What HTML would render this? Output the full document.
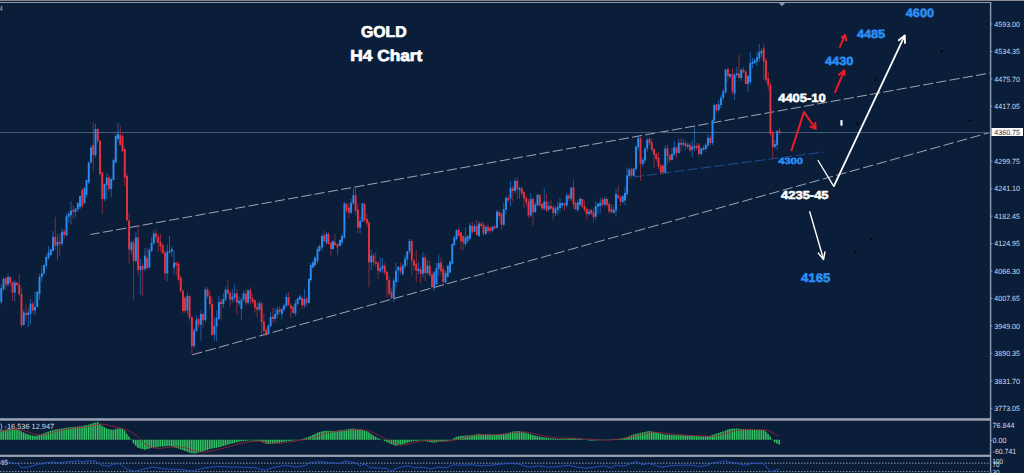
<!DOCTYPE html>
<html><head><meta charset="utf-8"><title>GOLD H4 Chart</title>
<style>
html,body{margin:0;padding:0;background:#0a1e3a;width:1024px;height:473px;overflow:hidden;font-family:"Liberation Sans",sans-serif;}
svg text{font-family:"Liberation Sans",sans-serif;text-rendering:geometricPrecision;}
</style></head><body>
<svg width="1024" height="473" viewBox="0 0 1024 473" style="position:absolute;left:0;top:0;display:block">
<rect x="0" y="0" width="1024" height="473" fill="#0a1e3a"/>
<rect x="0" y="0" width="1024" height="1" fill="#8a8a8a"/>
<rect x="0" y="1" width="1024" height="1" fill="#0b1a34"/>
<rect x="0" y="2" width="991.3" height="1" fill="#909ab2"/>
<rect x="989.9" y="2" width="1.4" height="471" fill="#909ab2"/>
<line x1="90.5" y1="234.5" x2="990" y2="73" stroke="#a6acb8" stroke-width="0.95" stroke-dasharray="10.15 3.29" stroke-dashoffset="0.8"/>
<line x1="191.5" y1="355" x2="990" y2="132.5" stroke="#a6acb8" stroke-width="0.95" stroke-dasharray="10.55 3.38" stroke-dashoffset="-0.6"/>
<line x1="633.5" y1="177" x2="824" y2="152" stroke="#1f68c4" stroke-width="0.65" stroke-dasharray="10.3 3.3" />
<rect x="0" y="132" width="990" height="1" fill="#485b78"/>
<g><line x1="1.25" y1="284.00" x2="1.25" y2="304.50" stroke="#2a8cf2" stroke-width="1" opacity="0.55"/><line x1="3.50" y1="277.50" x2="3.50" y2="291.00" stroke="#2a8cf2" stroke-width="1" opacity="0.55"/><line x1="5.75" y1="277.25" x2="5.75" y2="289.50" stroke="#e8323f" stroke-width="1" opacity="0.55"/><line x1="8.00" y1="274.00" x2="8.00" y2="286.50" stroke="#2a8cf2" stroke-width="1" opacity="0.55"/><line x1="10.25" y1="276.50" x2="10.25" y2="286.40" stroke="#e8323f" stroke-width="1" opacity="0.55"/><line x1="12.50" y1="281.50" x2="12.50" y2="301.00" stroke="#e8323f" stroke-width="1" opacity="0.55"/><line x1="14.75" y1="280.10" x2="14.75" y2="300.75" stroke="#2a8cf2" stroke-width="1" opacity="0.55"/><line x1="17.00" y1="282.10" x2="17.00" y2="286.50" stroke="#e8323f" stroke-width="1" opacity="0.55"/><line x1="19.25" y1="274.50" x2="19.25" y2="296.50" stroke="#e8323f" stroke-width="1" opacity="0.55"/><line x1="21.50" y1="288.00" x2="21.50" y2="327.50" stroke="#e8323f" stroke-width="1" opacity="0.55"/><line x1="23.75" y1="310.00" x2="23.75" y2="325.50" stroke="#2a8cf2" stroke-width="1" opacity="0.55"/><line x1="26.00" y1="304.40" x2="26.00" y2="321.00" stroke="#e8323f" stroke-width="1" opacity="0.55"/><line x1="28.25" y1="308.00" x2="28.25" y2="327.00" stroke="#2a8cf2" stroke-width="1" opacity="0.55"/><line x1="30.50" y1="299.00" x2="30.50" y2="324.40" stroke="#2a8cf2" stroke-width="1" opacity="0.55"/><line x1="32.75" y1="301.25" x2="32.75" y2="313.75" stroke="#e8323f" stroke-width="1" opacity="0.55"/><line x1="35.00" y1="291.40" x2="35.00" y2="315.60" stroke="#2a8cf2" stroke-width="1" opacity="0.55"/><line x1="37.25" y1="291.00" x2="37.25" y2="307.50" stroke="#2a8cf2" stroke-width="1" opacity="0.55"/><line x1="39.50" y1="274.00" x2="39.50" y2="300.00" stroke="#2a8cf2" stroke-width="1" opacity="0.55"/><line x1="41.75" y1="265.75" x2="41.75" y2="282.00" stroke="#2a8cf2" stroke-width="1" opacity="0.55"/><line x1="44.00" y1="264.50" x2="44.00" y2="275.25" stroke="#2a8cf2" stroke-width="1" opacity="0.55"/><line x1="46.25" y1="254.90" x2="46.25" y2="269.00" stroke="#2a8cf2" stroke-width="1" opacity="0.55"/><line x1="48.50" y1="246.00" x2="48.50" y2="260.00" stroke="#2a8cf2" stroke-width="1" opacity="0.55"/><line x1="50.75" y1="248.90" x2="50.75" y2="256.00" stroke="#2a8cf2" stroke-width="1" opacity="0.55"/><line x1="53.00" y1="231.00" x2="53.00" y2="251.50" stroke="#2a8cf2" stroke-width="1" opacity="0.55"/><line x1="55.25" y1="216.90" x2="55.25" y2="250.00" stroke="#e8323f" stroke-width="1" opacity="0.55"/><line x1="57.50" y1="233.75" x2="57.50" y2="259.40" stroke="#2a8cf2" stroke-width="1" opacity="0.55"/><line x1="59.75" y1="233.75" x2="59.75" y2="256.00" stroke="#e8323f" stroke-width="1" opacity="0.55"/><line x1="62.00" y1="228.75" x2="62.00" y2="246.25" stroke="#2a8cf2" stroke-width="1" opacity="0.55"/><line x1="64.25" y1="229.25" x2="64.25" y2="238.75" stroke="#e8323f" stroke-width="1" opacity="0.55"/><line x1="66.50" y1="213.75" x2="66.50" y2="236.10" stroke="#2a8cf2" stroke-width="1" opacity="0.55"/><line x1="68.75" y1="211.25" x2="68.75" y2="222.50" stroke="#2a8cf2" stroke-width="1" opacity="0.55"/><line x1="71.00" y1="201.00" x2="71.00" y2="224.40" stroke="#2a8cf2" stroke-width="1" opacity="0.55"/><line x1="73.25" y1="205.00" x2="73.25" y2="218.75" stroke="#e8323f" stroke-width="1" opacity="0.55"/><line x1="75.50" y1="208.25" x2="75.50" y2="217.50" stroke="#2a8cf2" stroke-width="1" opacity="0.55"/><line x1="77.75" y1="202.00" x2="77.75" y2="211.90" stroke="#2a8cf2" stroke-width="1" opacity="0.55"/><line x1="80.00" y1="195.50" x2="80.00" y2="209.50" stroke="#2a8cf2" stroke-width="1" opacity="0.55"/><line x1="82.25" y1="187.50" x2="82.25" y2="208.00" stroke="#e8323f" stroke-width="1" opacity="0.55"/><line x1="84.50" y1="187.50" x2="84.50" y2="204.00" stroke="#2a8cf2" stroke-width="1" opacity="0.55"/><line x1="86.50" y1="179.50" x2="86.50" y2="197.50" stroke="#2a8cf2" stroke-width="1" opacity="0.55"/><line x1="88.75" y1="161.50" x2="88.75" y2="184.00" stroke="#2a8cf2" stroke-width="1" opacity="0.55"/><line x1="91.00" y1="145.50" x2="91.00" y2="163.50" stroke="#2a8cf2" stroke-width="1" opacity="0.55"/><line x1="93.25" y1="122.50" x2="93.25" y2="171.00" stroke="#e8323f" stroke-width="1" opacity="0.55"/><line x1="95.50" y1="124.00" x2="95.50" y2="157.50" stroke="#2a8cf2" stroke-width="1" opacity="0.55"/><line x1="97.75" y1="128.50" x2="97.75" y2="143.50" stroke="#e8323f" stroke-width="1" opacity="0.55"/><line x1="100.00" y1="139.50" x2="100.00" y2="176.50" stroke="#e8323f" stroke-width="1" opacity="0.55"/><line x1="102.25" y1="171.50" x2="102.25" y2="214.00" stroke="#e8323f" stroke-width="1" opacity="0.55"/><line x1="104.50" y1="183.50" x2="104.50" y2="201.00" stroke="#2a8cf2" stroke-width="1" opacity="0.55"/><line x1="106.75" y1="172.50" x2="106.75" y2="199.00" stroke="#2a8cf2" stroke-width="1" opacity="0.55"/><line x1="109.00" y1="175.00" x2="109.00" y2="191.50" stroke="#e8323f" stroke-width="1" opacity="0.55"/><line x1="111.25" y1="178.00" x2="111.25" y2="197.50" stroke="#2a8cf2" stroke-width="1" opacity="0.55"/><line x1="113.50" y1="158.50" x2="113.50" y2="180.50" stroke="#2a8cf2" stroke-width="1" opacity="0.55"/><line x1="115.75" y1="133.50" x2="115.75" y2="163.00" stroke="#2a8cf2" stroke-width="1" opacity="0.55"/><line x1="118.00" y1="122.50" x2="118.00" y2="141.50" stroke="#2a8cf2" stroke-width="1" opacity="0.55"/><line x1="120.25" y1="125.00" x2="120.25" y2="145.50" stroke="#e8323f" stroke-width="1" opacity="0.55"/><line x1="122.50" y1="133.50" x2="122.50" y2="152.00" stroke="#e8323f" stroke-width="1" opacity="0.55"/><line x1="124.75" y1="147.00" x2="124.75" y2="186.00" stroke="#e8323f" stroke-width="1" opacity="0.55"/><line x1="127.00" y1="173.50" x2="127.00" y2="222.00" stroke="#e8323f" stroke-width="1" opacity="0.55"/><line x1="129.10" y1="213.00" x2="129.10" y2="264.00" stroke="#e8323f" stroke-width="1" opacity="0.55"/><line x1="131.40" y1="241.00" x2="131.40" y2="254.00" stroke="#2a8cf2" stroke-width="1" opacity="0.55"/><line x1="133.60" y1="239.40" x2="133.60" y2="300.00" stroke="#e8323f" stroke-width="1" opacity="0.55"/><line x1="135.90" y1="232.50" x2="135.90" y2="262.60" stroke="#2a8cf2" stroke-width="1" opacity="0.55"/><line x1="138.10" y1="226.25" x2="138.10" y2="275.00" stroke="#e8323f" stroke-width="1" opacity="0.55"/><line x1="140.40" y1="259.00" x2="140.40" y2="295.00" stroke="#2a8cf2" stroke-width="1" opacity="0.55"/><line x1="142.60" y1="263.50" x2="142.60" y2="296.00" stroke="#e8323f" stroke-width="1" opacity="0.55"/><line x1="144.90" y1="248.00" x2="144.90" y2="271.00" stroke="#2a8cf2" stroke-width="1" opacity="0.55"/><line x1="147.10" y1="247.50" x2="147.10" y2="269.50" stroke="#e8323f" stroke-width="1" opacity="0.55"/><line x1="149.40" y1="248.50" x2="149.40" y2="268.50" stroke="#2a8cf2" stroke-width="1" opacity="0.55"/><line x1="151.60" y1="236.90" x2="151.60" y2="252.00" stroke="#2a8cf2" stroke-width="1" opacity="0.55"/><line x1="153.75" y1="231.00" x2="153.75" y2="244.40" stroke="#2a8cf2" stroke-width="1" opacity="0.55"/><line x1="156.00" y1="229.00" x2="156.00" y2="243.40" stroke="#e8323f" stroke-width="1" opacity="0.55"/><line x1="158.25" y1="234.00" x2="158.25" y2="251.50" stroke="#e8323f" stroke-width="1" opacity="0.55"/><line x1="160.50" y1="234.00" x2="160.50" y2="252.00" stroke="#e8323f" stroke-width="1" opacity="0.55"/><line x1="162.75" y1="243.40" x2="162.75" y2="253.90" stroke="#e8323f" stroke-width="1" opacity="0.55"/><line x1="165.00" y1="250.25" x2="165.00" y2="279.60" stroke="#e8323f" stroke-width="1" opacity="0.55"/><line x1="167.25" y1="244.00" x2="167.25" y2="280.90" stroke="#2a8cf2" stroke-width="1" opacity="0.55"/><line x1="169.50" y1="235.90" x2="169.50" y2="254.00" stroke="#2a8cf2" stroke-width="1" opacity="0.55"/><line x1="171.75" y1="246.50" x2="171.75" y2="256.50" stroke="#2a8cf2" stroke-width="1" opacity="0.55"/><line x1="174.00" y1="250.25" x2="174.00" y2="274.60" stroke="#2a8cf2" stroke-width="1" opacity="0.55"/><line x1="176.25" y1="261.50" x2="176.25" y2="275.25" stroke="#e8323f" stroke-width="1" opacity="0.55"/><line x1="178.50" y1="261.50" x2="178.50" y2="281.10" stroke="#e8323f" stroke-width="1" opacity="0.55"/><line x1="180.75" y1="275.25" x2="180.75" y2="293.00" stroke="#e8323f" stroke-width="1" opacity="0.55"/><line x1="183.00" y1="289.50" x2="183.00" y2="313.00" stroke="#e8323f" stroke-width="1" opacity="0.55"/><line x1="185.00" y1="296.25" x2="185.00" y2="313.40" stroke="#e8323f" stroke-width="1" opacity="0.55"/><line x1="187.40" y1="292.00" x2="187.40" y2="314.60" stroke="#2a8cf2" stroke-width="1" opacity="0.55"/><line x1="189.60" y1="295.40" x2="189.60" y2="321.00" stroke="#e8323f" stroke-width="1" opacity="0.55"/><line x1="191.90" y1="316.50" x2="191.90" y2="354.00" stroke="#e8323f" stroke-width="1" opacity="0.55"/><line x1="194.10" y1="327.75" x2="194.10" y2="348.00" stroke="#2a8cf2" stroke-width="1" opacity="0.55"/><line x1="196.40" y1="315.25" x2="196.40" y2="331.90" stroke="#2a8cf2" stroke-width="1" opacity="0.55"/><line x1="198.60" y1="317.50" x2="198.60" y2="327.75" stroke="#e8323f" stroke-width="1" opacity="0.55"/><line x1="200.90" y1="310.25" x2="200.90" y2="340.90" stroke="#2a8cf2" stroke-width="1" opacity="0.55"/><line x1="203.10" y1="313.00" x2="203.10" y2="327.75" stroke="#e8323f" stroke-width="1" opacity="0.55"/><line x1="205.40" y1="287.00" x2="205.40" y2="322.25" stroke="#2a8cf2" stroke-width="1" opacity="0.55"/><line x1="207.60" y1="287.50" x2="207.60" y2="298.50" stroke="#e8323f" stroke-width="1" opacity="0.55"/><line x1="209.90" y1="290.90" x2="209.90" y2="308.40" stroke="#e8323f" stroke-width="1" opacity="0.55"/><line x1="212.10" y1="297.75" x2="212.10" y2="335.75" stroke="#e8323f" stroke-width="1" opacity="0.55"/><line x1="214.40" y1="317.00" x2="214.40" y2="340.90" stroke="#2a8cf2" stroke-width="1" opacity="0.55"/><line x1="216.60" y1="310.25" x2="216.60" y2="341.50" stroke="#2a8cf2" stroke-width="1" opacity="0.55"/><line x1="218.90" y1="295.90" x2="218.90" y2="319.50" stroke="#2a8cf2" stroke-width="1" opacity="0.55"/><line x1="221.10" y1="299.00" x2="221.10" y2="320.25" stroke="#e8323f" stroke-width="1" opacity="0.55"/><line x1="223.40" y1="293.40" x2="223.40" y2="307.75" stroke="#2a8cf2" stroke-width="1" opacity="0.55"/><line x1="225.60" y1="287.10" x2="225.60" y2="301.10" stroke="#2a8cf2" stroke-width="1" opacity="0.55"/><line x1="227.90" y1="280.00" x2="227.90" y2="294.90" stroke="#e8323f" stroke-width="1" opacity="0.55"/><line x1="230.10" y1="291.25" x2="230.10" y2="307.00" stroke="#e8323f" stroke-width="1" opacity="0.55"/><line x1="232.40" y1="289.00" x2="232.40" y2="302.75" stroke="#2a8cf2" stroke-width="1" opacity="0.55"/><line x1="234.60" y1="284.60" x2="234.60" y2="301.50" stroke="#2a8cf2" stroke-width="1" opacity="0.55"/><line x1="236.90" y1="289.00" x2="236.90" y2="314.60" stroke="#e8323f" stroke-width="1" opacity="0.55"/><line x1="239.10" y1="296.50" x2="239.10" y2="305.90" stroke="#2a8cf2" stroke-width="1" opacity="0.55"/><line x1="241.40" y1="297.60" x2="241.40" y2="319.60" stroke="#2a8cf2" stroke-width="1" opacity="0.55"/><line x1="243.60" y1="290.90" x2="243.60" y2="301.60" stroke="#2a8cf2" stroke-width="1" opacity="0.55"/><line x1="245.90" y1="289.00" x2="245.90" y2="305.25" stroke="#e8323f" stroke-width="1" opacity="0.55"/><line x1="248.10" y1="289.75" x2="248.10" y2="304.60" stroke="#2a8cf2" stroke-width="1" opacity="0.55"/><line x1="250.40" y1="287.00" x2="250.40" y2="304.00" stroke="#e8323f" stroke-width="1" opacity="0.55"/><line x1="252.60" y1="294.60" x2="252.60" y2="304.00" stroke="#e8323f" stroke-width="1" opacity="0.55"/><line x1="254.90" y1="299.75" x2="254.90" y2="312.75" stroke="#e8323f" stroke-width="1" opacity="0.55"/><line x1="257.10" y1="302.75" x2="257.10" y2="317.75" stroke="#e8323f" stroke-width="1" opacity="0.55"/><line x1="259.40" y1="301.50" x2="259.40" y2="311.10" stroke="#2a8cf2" stroke-width="1" opacity="0.55"/><line x1="261.60" y1="301.50" x2="261.60" y2="334.60" stroke="#e8323f" stroke-width="1" opacity="0.55"/><line x1="263.90" y1="313.40" x2="263.90" y2="334.00" stroke="#e8323f" stroke-width="1" opacity="0.55"/><line x1="266.10" y1="327.75" x2="266.10" y2="336.00" stroke="#e8323f" stroke-width="1" opacity="0.55"/><line x1="268.40" y1="324.75" x2="268.40" y2="334.50" stroke="#2a8cf2" stroke-width="1" opacity="0.55"/><line x1="270.60" y1="311.50" x2="270.60" y2="327.40" stroke="#2a8cf2" stroke-width="1" opacity="0.55"/><line x1="272.90" y1="307.75" x2="272.90" y2="322.75" stroke="#e8323f" stroke-width="1" opacity="0.55"/><line x1="275.10" y1="308.40" x2="275.10" y2="322.00" stroke="#2a8cf2" stroke-width="1" opacity="0.55"/><line x1="277.40" y1="306.50" x2="277.40" y2="318.40" stroke="#2a8cf2" stroke-width="1" opacity="0.55"/><line x1="279.60" y1="306.00" x2="279.60" y2="314.50" stroke="#e8323f" stroke-width="1" opacity="0.55"/><line x1="281.90" y1="307.00" x2="281.90" y2="319.00" stroke="#2a8cf2" stroke-width="1" opacity="0.55"/><line x1="284.10" y1="303.75" x2="284.10" y2="311.60" stroke="#2a8cf2" stroke-width="1" opacity="0.55"/><line x1="286.40" y1="293.40" x2="286.40" y2="307.40" stroke="#2a8cf2" stroke-width="1" opacity="0.55"/><line x1="288.60" y1="292.00" x2="288.60" y2="305.75" stroke="#e8323f" stroke-width="1" opacity="0.55"/><line x1="290.90" y1="303.25" x2="290.90" y2="317.75" stroke="#e8323f" stroke-width="1" opacity="0.55"/><line x1="293.10" y1="305.50" x2="293.10" y2="313.75" stroke="#e8323f" stroke-width="1" opacity="0.55"/><line x1="295.40" y1="299.60" x2="295.40" y2="315.90" stroke="#2a8cf2" stroke-width="1" opacity="0.55"/><line x1="297.60" y1="297.90" x2="297.60" y2="306.00" stroke="#2a8cf2" stroke-width="1" opacity="0.55"/><line x1="299.90" y1="294.60" x2="299.90" y2="300.10" stroke="#2a8cf2" stroke-width="1" opacity="0.55"/><line x1="302.10" y1="296.75" x2="302.10" y2="309.00" stroke="#e8323f" stroke-width="1" opacity="0.55"/><line x1="304.40" y1="289.00" x2="304.40" y2="308.40" stroke="#2a8cf2" stroke-width="1" opacity="0.55"/><line x1="306.60" y1="296.90" x2="306.60" y2="306.50" stroke="#e8323f" stroke-width="1" opacity="0.55"/><line x1="308.90" y1="278.00" x2="308.90" y2="303.75" stroke="#2a8cf2" stroke-width="1" opacity="0.55"/><line x1="310.75" y1="263.00" x2="310.75" y2="282.00" stroke="#2a8cf2" stroke-width="1" opacity="0.55"/><line x1="313.00" y1="260.50" x2="313.00" y2="268.00" stroke="#2a8cf2" stroke-width="1" opacity="0.55"/><line x1="315.00" y1="256.50" x2="315.00" y2="267.00" stroke="#2a8cf2" stroke-width="1" opacity="0.55"/><line x1="317.50" y1="247.00" x2="317.50" y2="263.50" stroke="#2a8cf2" stroke-width="1" opacity="0.55"/><line x1="319.50" y1="244.50" x2="319.50" y2="252.00" stroke="#2a8cf2" stroke-width="1" opacity="0.55"/><line x1="322.00" y1="234.00" x2="322.00" y2="250.00" stroke="#2a8cf2" stroke-width="1" opacity="0.55"/><line x1="324.00" y1="231.00" x2="324.00" y2="242.50" stroke="#e8323f" stroke-width="1" opacity="0.55"/><line x1="326.50" y1="232.00" x2="326.50" y2="244.00" stroke="#2a8cf2" stroke-width="1" opacity="0.55"/><line x1="328.50" y1="232.00" x2="328.50" y2="245.00" stroke="#e8323f" stroke-width="1" opacity="0.55"/><line x1="331.00" y1="241.50" x2="331.00" y2="256.00" stroke="#e8323f" stroke-width="1" opacity="0.55"/><line x1="333.00" y1="240.50" x2="333.00" y2="250.00" stroke="#2a8cf2" stroke-width="1" opacity="0.55"/><line x1="335.00" y1="234.00" x2="335.00" y2="246.00" stroke="#e8323f" stroke-width="1" opacity="0.55"/><line x1="337.50" y1="243.00" x2="337.50" y2="255.00" stroke="#e8323f" stroke-width="1" opacity="0.55"/><line x1="340.00" y1="239.00" x2="340.00" y2="246.50" stroke="#2a8cf2" stroke-width="1" opacity="0.55"/><line x1="342.00" y1="234.00" x2="342.00" y2="245.00" stroke="#2a8cf2" stroke-width="1" opacity="0.55"/><line x1="344.40" y1="202.00" x2="344.40" y2="238.50" stroke="#2a8cf2" stroke-width="1" opacity="0.55"/><line x1="346.60" y1="202.75" x2="346.60" y2="212.75" stroke="#e8323f" stroke-width="1" opacity="0.55"/><line x1="348.90" y1="203.40" x2="348.90" y2="217.75" stroke="#e8323f" stroke-width="1" opacity="0.55"/><line x1="351.10" y1="199.00" x2="351.10" y2="214.25" stroke="#2a8cf2" stroke-width="1" opacity="0.55"/><line x1="353.40" y1="188.40" x2="353.40" y2="204.90" stroke="#2a8cf2" stroke-width="1" opacity="0.55"/><line x1="355.60" y1="186.50" x2="355.60" y2="215.25" stroke="#e8323f" stroke-width="1" opacity="0.55"/><line x1="357.90" y1="202.75" x2="357.90" y2="233.40" stroke="#e8323f" stroke-width="1" opacity="0.55"/><line x1="360.10" y1="216.50" x2="360.10" y2="233.40" stroke="#2a8cf2" stroke-width="1" opacity="0.55"/><line x1="362.40" y1="202.90" x2="362.40" y2="222.50" stroke="#2a8cf2" stroke-width="1" opacity="0.55"/><line x1="364.60" y1="202.00" x2="364.60" y2="222.00" stroke="#e8323f" stroke-width="1" opacity="0.55"/><line x1="366.90" y1="214.00" x2="366.90" y2="227.00" stroke="#e8323f" stroke-width="1" opacity="0.55"/><line x1="369.00" y1="220.50" x2="369.00" y2="287.00" stroke="#e8323f" stroke-width="1" opacity="0.55"/><line x1="371.25" y1="250.00" x2="371.25" y2="270.00" stroke="#2a8cf2" stroke-width="1" opacity="0.55"/><line x1="373.50" y1="253.10" x2="373.50" y2="266.00" stroke="#e8323f" stroke-width="1" opacity="0.55"/><line x1="375.75" y1="252.00" x2="375.75" y2="267.00" stroke="#e8323f" stroke-width="1" opacity="0.55"/><line x1="378.00" y1="260.60" x2="378.00" y2="278.75" stroke="#e8323f" stroke-width="1" opacity="0.55"/><line x1="380.25" y1="257.00" x2="380.25" y2="272.75" stroke="#2a8cf2" stroke-width="1" opacity="0.55"/><line x1="382.50" y1="258.00" x2="382.50" y2="273.00" stroke="#2a8cf2" stroke-width="1" opacity="0.55"/><line x1="384.75" y1="263.00" x2="384.75" y2="275.00" stroke="#e8323f" stroke-width="1" opacity="0.55"/><line x1="387.00" y1="269.50" x2="387.00" y2="298.00" stroke="#e8323f" stroke-width="1" opacity="0.55"/><line x1="389.25" y1="275.60" x2="389.25" y2="295.25" stroke="#e8323f" stroke-width="1" opacity="0.55"/><line x1="391.50" y1="288.75" x2="391.50" y2="299.40" stroke="#e8323f" stroke-width="1" opacity="0.55"/><line x1="393.75" y1="278.00" x2="393.75" y2="302.50" stroke="#2a8cf2" stroke-width="1" opacity="0.55"/><line x1="396.00" y1="263.00" x2="396.00" y2="287.50" stroke="#2a8cf2" stroke-width="1" opacity="0.55"/><line x1="398.25" y1="266.00" x2="398.25" y2="282.50" stroke="#2a8cf2" stroke-width="1" opacity="0.55"/><line x1="400.50" y1="262.50" x2="400.50" y2="273.75" stroke="#e8323f" stroke-width="1" opacity="0.55"/><line x1="402.75" y1="263.75" x2="402.75" y2="275.60" stroke="#2a8cf2" stroke-width="1" opacity="0.55"/><line x1="405.00" y1="255.60" x2="405.00" y2="268.75" stroke="#2a8cf2" stroke-width="1" opacity="0.55"/><line x1="407.25" y1="250.75" x2="407.25" y2="265.60" stroke="#2a8cf2" stroke-width="1" opacity="0.55"/><line x1="409.50" y1="239.00" x2="409.50" y2="253.75" stroke="#2a8cf2" stroke-width="1" opacity="0.55"/><line x1="411.75" y1="239.00" x2="411.75" y2="276.25" stroke="#e8323f" stroke-width="1" opacity="0.55"/><line x1="414.00" y1="258.60" x2="414.00" y2="270.60" stroke="#e8323f" stroke-width="1" opacity="0.55"/><line x1="416.25" y1="250.00" x2="416.25" y2="282.00" stroke="#e8323f" stroke-width="1" opacity="0.55"/><line x1="418.50" y1="262.00" x2="418.50" y2="274.40" stroke="#2a8cf2" stroke-width="1" opacity="0.55"/><line x1="420.75" y1="265.60" x2="420.75" y2="283.75" stroke="#e8323f" stroke-width="1" opacity="0.55"/><line x1="423.00" y1="252.00" x2="423.00" y2="277.50" stroke="#2a8cf2" stroke-width="1" opacity="0.55"/><line x1="425.25" y1="255.00" x2="425.25" y2="281.25" stroke="#e8323f" stroke-width="1" opacity="0.55"/><line x1="427.50" y1="260.60" x2="427.50" y2="274.40" stroke="#2a8cf2" stroke-width="1" opacity="0.55"/><line x1="429.75" y1="260.00" x2="429.75" y2="277.00" stroke="#e8323f" stroke-width="1" opacity="0.55"/><line x1="432.00" y1="271.00" x2="432.00" y2="288.90" stroke="#e8323f" stroke-width="1" opacity="0.55"/><line x1="434.25" y1="270.50" x2="434.25" y2="291.25" stroke="#2a8cf2" stroke-width="1" opacity="0.55"/><line x1="436.50" y1="262.50" x2="436.50" y2="284.90" stroke="#2a8cf2" stroke-width="1" opacity="0.55"/><line x1="438.75" y1="254.40" x2="438.75" y2="275.60" stroke="#2a8cf2" stroke-width="1" opacity="0.55"/><line x1="441.00" y1="258.00" x2="441.00" y2="275.60" stroke="#e8323f" stroke-width="1" opacity="0.55"/><line x1="443.25" y1="265.00" x2="443.25" y2="283.90" stroke="#e8323f" stroke-width="1" opacity="0.55"/><line x1="445.50" y1="271.00" x2="445.50" y2="283.75" stroke="#2a8cf2" stroke-width="1" opacity="0.55"/><line x1="447.75" y1="265.00" x2="447.75" y2="277.40" stroke="#2a8cf2" stroke-width="1" opacity="0.55"/><line x1="450.00" y1="260.60" x2="450.00" y2="273.50" stroke="#2a8cf2" stroke-width="1" opacity="0.55"/><line x1="452.25" y1="243.50" x2="452.25" y2="264.75" stroke="#2a8cf2" stroke-width="1" opacity="0.55"/><line x1="454.30" y1="235.50" x2="454.30" y2="246.00" stroke="#2a8cf2" stroke-width="1" opacity="0.55"/><line x1="456.50" y1="229.50" x2="456.50" y2="240.50" stroke="#2a8cf2" stroke-width="1" opacity="0.55"/><line x1="458.75" y1="227.50" x2="458.75" y2="236.50" stroke="#e8323f" stroke-width="1" opacity="0.55"/><line x1="461.00" y1="232.00" x2="461.00" y2="250.00" stroke="#e8323f" stroke-width="1" opacity="0.55"/><line x1="463.20" y1="235.50" x2="463.20" y2="250.00" stroke="#e8323f" stroke-width="1" opacity="0.55"/><line x1="465.40" y1="227.50" x2="465.40" y2="246.50" stroke="#2a8cf2" stroke-width="1" opacity="0.55"/><line x1="467.60" y1="235.00" x2="467.60" y2="243.50" stroke="#2a8cf2" stroke-width="1" opacity="0.55"/><line x1="470.00" y1="223.00" x2="470.00" y2="239.50" stroke="#2a8cf2" stroke-width="1" opacity="0.55"/><line x1="472.25" y1="221.60" x2="472.25" y2="233.75" stroke="#e8323f" stroke-width="1" opacity="0.55"/><line x1="474.50" y1="223.50" x2="474.50" y2="232.10" stroke="#2a8cf2" stroke-width="1" opacity="0.55"/><line x1="476.75" y1="219.75" x2="476.75" y2="235.50" stroke="#e8323f" stroke-width="1" opacity="0.55"/><line x1="479.00" y1="221.00" x2="479.00" y2="237.00" stroke="#2a8cf2" stroke-width="1" opacity="0.55"/><line x1="481.25" y1="221.60" x2="481.25" y2="228.50" stroke="#e8323f" stroke-width="1" opacity="0.55"/><line x1="483.50" y1="222.25" x2="483.50" y2="236.00" stroke="#e8323f" stroke-width="1" opacity="0.55"/><line x1="485.75" y1="225.25" x2="485.75" y2="235.00" stroke="#2a8cf2" stroke-width="1" opacity="0.55"/><line x1="488.00" y1="222.90" x2="488.00" y2="232.50" stroke="#e8323f" stroke-width="1" opacity="0.55"/><line x1="490.25" y1="226.40" x2="490.25" y2="233.50" stroke="#e8323f" stroke-width="1" opacity="0.55"/><line x1="492.50" y1="225.40" x2="492.50" y2="231.90" stroke="#2a8cf2" stroke-width="1" opacity="0.55"/><line x1="494.75" y1="224.60" x2="494.75" y2="229.00" stroke="#e8323f" stroke-width="1" opacity="0.55"/><line x1="497.00" y1="210.40" x2="497.00" y2="228.40" stroke="#2a8cf2" stroke-width="1" opacity="0.55"/><line x1="499.25" y1="210.25" x2="499.25" y2="220.40" stroke="#e8323f" stroke-width="1" opacity="0.55"/><line x1="501.50" y1="212.25" x2="501.50" y2="229.75" stroke="#e8323f" stroke-width="1" opacity="0.55"/><line x1="503.75" y1="202.90" x2="503.75" y2="226.00" stroke="#2a8cf2" stroke-width="1" opacity="0.55"/><line x1="506.00" y1="195.40" x2="506.00" y2="214.75" stroke="#2a8cf2" stroke-width="1" opacity="0.55"/><line x1="508.25" y1="195.90" x2="508.25" y2="202.40" stroke="#e8323f" stroke-width="1" opacity="0.55"/><line x1="510.50" y1="181.00" x2="510.50" y2="206.00" stroke="#2a8cf2" stroke-width="1" opacity="0.55"/><line x1="512.75" y1="185.40" x2="512.75" y2="201.00" stroke="#e8323f" stroke-width="1" opacity="0.55"/><line x1="515.00" y1="178.50" x2="515.00" y2="193.50" stroke="#2a8cf2" stroke-width="1" opacity="0.55"/><line x1="517.25" y1="177.25" x2="517.25" y2="199.00" stroke="#e8323f" stroke-width="1" opacity="0.55"/><line x1="519.50" y1="186.60" x2="519.50" y2="199.00" stroke="#2a8cf2" stroke-width="1" opacity="0.55"/><line x1="521.75" y1="186.60" x2="521.75" y2="195.50" stroke="#e8323f" stroke-width="1" opacity="0.55"/><line x1="524.00" y1="191.00" x2="524.00" y2="207.90" stroke="#e8323f" stroke-width="1" opacity="0.55"/><line x1="526.25" y1="195.40" x2="526.25" y2="206.60" stroke="#e8323f" stroke-width="1" opacity="0.55"/><line x1="528.50" y1="198.50" x2="528.50" y2="217.90" stroke="#e8323f" stroke-width="1" opacity="0.55"/><line x1="530.75" y1="192.90" x2="530.75" y2="216.90" stroke="#2a8cf2" stroke-width="1" opacity="0.55"/><line x1="533.00" y1="197.90" x2="533.00" y2="225.40" stroke="#e8323f" stroke-width="1" opacity="0.55"/><line x1="535.25" y1="202.25" x2="535.25" y2="212.75" stroke="#2a8cf2" stroke-width="1" opacity="0.55"/><line x1="537.50" y1="194.00" x2="537.50" y2="206.40" stroke="#2a8cf2" stroke-width="1" opacity="0.55"/><line x1="539.75" y1="194.25" x2="539.75" y2="206.60" stroke="#e8323f" stroke-width="1" opacity="0.55"/><line x1="542.00" y1="202.90" x2="542.00" y2="211.00" stroke="#e8323f" stroke-width="1" opacity="0.55"/><line x1="544.25" y1="187.90" x2="544.25" y2="210.00" stroke="#2a8cf2" stroke-width="1" opacity="0.55"/><line x1="546.50" y1="194.00" x2="546.50" y2="211.90" stroke="#e8323f" stroke-width="1" opacity="0.55"/><line x1="548.75" y1="201.60" x2="548.75" y2="211.75" stroke="#2a8cf2" stroke-width="1" opacity="0.55"/><line x1="551.00" y1="199.75" x2="551.00" y2="209.50" stroke="#e8323f" stroke-width="1" opacity="0.55"/><line x1="553.25" y1="204.75" x2="553.25" y2="220.40" stroke="#e8323f" stroke-width="1" opacity="0.55"/><line x1="555.50" y1="205.40" x2="555.50" y2="216.00" stroke="#2a8cf2" stroke-width="1" opacity="0.55"/><line x1="557.75" y1="201.60" x2="557.75" y2="215.40" stroke="#2a8cf2" stroke-width="1" opacity="0.55"/><line x1="560.00" y1="197.90" x2="560.00" y2="212.25" stroke="#2a8cf2" stroke-width="1" opacity="0.55"/><line x1="562.25" y1="202.40" x2="562.25" y2="208.50" stroke="#2a8cf2" stroke-width="1" opacity="0.55"/><line x1="564.50" y1="202.50" x2="564.50" y2="211.00" stroke="#e8323f" stroke-width="1" opacity="0.55"/><line x1="566.75" y1="193.50" x2="566.75" y2="207.25" stroke="#2a8cf2" stroke-width="1" opacity="0.55"/><line x1="569.00" y1="192.90" x2="569.00" y2="201.00" stroke="#e8323f" stroke-width="1" opacity="0.55"/><line x1="571.25" y1="186.60" x2="571.25" y2="201.00" stroke="#2a8cf2" stroke-width="1" opacity="0.55"/><line x1="573.50" y1="179.75" x2="573.50" y2="209.00" stroke="#e8323f" stroke-width="1" opacity="0.55"/><line x1="575.50" y1="201.40" x2="575.50" y2="210.00" stroke="#e8323f" stroke-width="1" opacity="0.55"/><line x1="577.75" y1="199.75" x2="577.75" y2="210.90" stroke="#2a8cf2" stroke-width="1" opacity="0.55"/><line x1="580.00" y1="196.50" x2="580.00" y2="206.25" stroke="#2a8cf2" stroke-width="1" opacity="0.55"/><line x1="582.25" y1="198.50" x2="582.25" y2="208.10" stroke="#e8323f" stroke-width="1" opacity="0.55"/><line x1="584.50" y1="200.40" x2="584.50" y2="212.25" stroke="#e8323f" stroke-width="1" opacity="0.55"/><line x1="586.75" y1="207.50" x2="586.75" y2="219.75" stroke="#e8323f" stroke-width="1" opacity="0.55"/><line x1="589.00" y1="209.00" x2="589.00" y2="215.40" stroke="#2a8cf2" stroke-width="1" opacity="0.55"/><line x1="591.25" y1="208.75" x2="591.25" y2="215.00" stroke="#e8323f" stroke-width="1" opacity="0.55"/><line x1="593.50" y1="208.50" x2="593.50" y2="222.25" stroke="#e8323f" stroke-width="1" opacity="0.55"/><line x1="595.75" y1="201.60" x2="595.75" y2="219.75" stroke="#2a8cf2" stroke-width="1" opacity="0.55"/><line x1="598.00" y1="202.50" x2="598.00" y2="214.00" stroke="#2a8cf2" stroke-width="1" opacity="0.55"/><line x1="600.25" y1="197.90" x2="600.25" y2="212.90" stroke="#2a8cf2" stroke-width="1" opacity="0.55"/><line x1="602.50" y1="197.25" x2="602.50" y2="207.25" stroke="#e8323f" stroke-width="1" opacity="0.55"/><line x1="604.75" y1="196.50" x2="604.75" y2="206.25" stroke="#2a8cf2" stroke-width="1" opacity="0.55"/><line x1="607.00" y1="198.00" x2="607.00" y2="207.25" stroke="#e8323f" stroke-width="1" opacity="0.55"/><line x1="609.25" y1="201.50" x2="609.25" y2="214.00" stroke="#e8323f" stroke-width="1" opacity="0.55"/><line x1="611.50" y1="204.00" x2="611.50" y2="213.25" stroke="#e8323f" stroke-width="1" opacity="0.55"/><line x1="613.75" y1="205.40" x2="613.75" y2="214.00" stroke="#2a8cf2" stroke-width="1" opacity="0.55"/><line x1="616.00" y1="189.00" x2="616.00" y2="216.60" stroke="#2a8cf2" stroke-width="1" opacity="0.55"/><line x1="618.25" y1="185.40" x2="618.25" y2="198.90" stroke="#e8323f" stroke-width="1" opacity="0.55"/><line x1="620.50" y1="195.25" x2="620.50" y2="206.00" stroke="#e8323f" stroke-width="1" opacity="0.55"/><line x1="622.75" y1="195.00" x2="622.75" y2="203.25" stroke="#2a8cf2" stroke-width="1" opacity="0.55"/><line x1="625.00" y1="187.25" x2="625.00" y2="205.40" stroke="#2a8cf2" stroke-width="1" opacity="0.55"/><line x1="627.10" y1="167.90" x2="627.10" y2="196.50" stroke="#2a8cf2" stroke-width="1" opacity="0.55"/><line x1="629.25" y1="167.75" x2="629.25" y2="178.50" stroke="#2a8cf2" stroke-width="1" opacity="0.55"/><line x1="631.50" y1="167.50" x2="631.50" y2="177.90" stroke="#e8323f" stroke-width="1" opacity="0.55"/><line x1="633.75" y1="168.00" x2="633.75" y2="176.50" stroke="#2a8cf2" stroke-width="1" opacity="0.55"/><line x1="636.00" y1="145.40" x2="636.00" y2="170.50" stroke="#2a8cf2" stroke-width="1" opacity="0.55"/><line x1="638.25" y1="135.40" x2="638.25" y2="150.40" stroke="#2a8cf2" stroke-width="1" opacity="0.55"/><line x1="640.50" y1="136.60" x2="640.50" y2="181.00" stroke="#e8323f" stroke-width="1" opacity="0.55"/><line x1="642.75" y1="157.75" x2="642.75" y2="166.60" stroke="#2a8cf2" stroke-width="1" opacity="0.55"/><line x1="645.00" y1="147.00" x2="645.00" y2="162.90" stroke="#2a8cf2" stroke-width="1" opacity="0.55"/><line x1="647.25" y1="137.90" x2="647.25" y2="152.25" stroke="#2a8cf2" stroke-width="1" opacity="0.55"/><line x1="649.50" y1="137.25" x2="649.50" y2="145.40" stroke="#e8323f" stroke-width="1" opacity="0.55"/><line x1="651.75" y1="138.50" x2="651.75" y2="152.25" stroke="#e8323f" stroke-width="1" opacity="0.55"/><line x1="654.00" y1="148.00" x2="654.00" y2="167.90" stroke="#e8323f" stroke-width="1" opacity="0.55"/><line x1="656.25" y1="152.25" x2="656.25" y2="161.60" stroke="#e8323f" stroke-width="1" opacity="0.55"/><line x1="658.50" y1="152.25" x2="658.50" y2="169.10" stroke="#e8323f" stroke-width="1" opacity="0.55"/><line x1="660.75" y1="163.50" x2="660.75" y2="174.75" stroke="#e8323f" stroke-width="1" opacity="0.55"/><line x1="663.00" y1="163.90" x2="663.00" y2="174.25" stroke="#e8323f" stroke-width="1" opacity="0.55"/><line x1="665.25" y1="145.40" x2="665.25" y2="173.75" stroke="#2a8cf2" stroke-width="1" opacity="0.55"/><line x1="667.50" y1="144.75" x2="667.50" y2="164.75" stroke="#e8323f" stroke-width="1" opacity="0.55"/><line x1="669.75" y1="153.90" x2="669.75" y2="162.90" stroke="#e8323f" stroke-width="1" opacity="0.55"/><line x1="672.00" y1="147.90" x2="672.00" y2="160.25" stroke="#2a8cf2" stroke-width="1" opacity="0.55"/><line x1="674.25" y1="141.00" x2="674.25" y2="155.75" stroke="#2a8cf2" stroke-width="1" opacity="0.55"/><line x1="676.50" y1="146.75" x2="676.50" y2="157.90" stroke="#e8323f" stroke-width="1" opacity="0.55"/><line x1="678.75" y1="139.00" x2="678.75" y2="153.90" stroke="#2a8cf2" stroke-width="1" opacity="0.55"/><line x1="681.00" y1="137.90" x2="681.00" y2="151.60" stroke="#e8323f" stroke-width="1" opacity="0.55"/><line x1="683.25" y1="139.00" x2="683.25" y2="146.60" stroke="#2a8cf2" stroke-width="1" opacity="0.55"/><line x1="685.50" y1="140.40" x2="685.50" y2="149.75" stroke="#e8323f" stroke-width="1" opacity="0.55"/><line x1="687.75" y1="142.90" x2="687.75" y2="148.60" stroke="#2a8cf2" stroke-width="1" opacity="0.55"/><line x1="690.00" y1="142.90" x2="690.00" y2="151.60" stroke="#e8323f" stroke-width="1" opacity="0.55"/><line x1="692.25" y1="140.40" x2="692.25" y2="157.25" stroke="#2a8cf2" stroke-width="1" opacity="0.55"/><line x1="694.50" y1="126.00" x2="694.50" y2="151.00" stroke="#2a8cf2" stroke-width="1" opacity="0.55"/><line x1="696.75" y1="142.90" x2="696.75" y2="150.40" stroke="#e8323f" stroke-width="1" opacity="0.55"/><line x1="699.00" y1="142.90" x2="699.00" y2="156.60" stroke="#e8323f" stroke-width="1" opacity="0.55"/><line x1="701.25" y1="147.50" x2="701.25" y2="155.50" stroke="#2a8cf2" stroke-width="1" opacity="0.55"/><line x1="703.50" y1="145.40" x2="703.50" y2="150.75" stroke="#2a8cf2" stroke-width="1" opacity="0.55"/><line x1="705.75" y1="142.90" x2="705.75" y2="151.60" stroke="#2a8cf2" stroke-width="1" opacity="0.55"/><line x1="708.00" y1="134.00" x2="708.00" y2="147.40" stroke="#2a8cf2" stroke-width="1" opacity="0.55"/><line x1="710.25" y1="135.40" x2="710.25" y2="145.40" stroke="#e8323f" stroke-width="1" opacity="0.55"/><line x1="712.50" y1="119.50" x2="712.50" y2="144.90" stroke="#2a8cf2" stroke-width="1" opacity="0.55"/><line x1="714.25" y1="103.50" x2="714.25" y2="121.10" stroke="#2a8cf2" stroke-width="1" opacity="0.55"/><line x1="716.50" y1="103.90" x2="716.50" y2="112.60" stroke="#e8323f" stroke-width="1" opacity="0.55"/><line x1="718.75" y1="100.00" x2="718.75" y2="111.00" stroke="#2a8cf2" stroke-width="1" opacity="0.55"/><line x1="721.00" y1="94.40" x2="721.00" y2="108.00" stroke="#2a8cf2" stroke-width="1" opacity="0.55"/><line x1="723.25" y1="89.25" x2="723.25" y2="100.60" stroke="#2a8cf2" stroke-width="1" opacity="0.55"/><line x1="725.60" y1="68.75" x2="725.60" y2="94.00" stroke="#2a8cf2" stroke-width="1" opacity="0.55"/><line x1="727.90" y1="67.50" x2="727.90" y2="81.60" stroke="#e8323f" stroke-width="1" opacity="0.55"/><line x1="730.00" y1="73.50" x2="730.00" y2="78.60" stroke="#2a8cf2" stroke-width="1" opacity="0.55"/><line x1="732.50" y1="68.50" x2="732.50" y2="95.00" stroke="#e8323f" stroke-width="1" opacity="0.55"/><line x1="734.60" y1="72.75" x2="734.60" y2="100.00" stroke="#2a8cf2" stroke-width="1" opacity="0.55"/><line x1="736.90" y1="67.00" x2="736.90" y2="77.00" stroke="#2a8cf2" stroke-width="1" opacity="0.55"/><line x1="739.00" y1="54.75" x2="739.00" y2="78.50" stroke="#e8323f" stroke-width="1" opacity="0.55"/><line x1="741.25" y1="68.75" x2="741.25" y2="81.00" stroke="#2a8cf2" stroke-width="1" opacity="0.55"/><line x1="743.50" y1="67.25" x2="743.50" y2="73.25" stroke="#e8323f" stroke-width="1" opacity="0.55"/><line x1="745.75" y1="70.60" x2="745.75" y2="84.50" stroke="#e8323f" stroke-width="1" opacity="0.55"/><line x1="748.00" y1="75.00" x2="748.00" y2="92.00" stroke="#2a8cf2" stroke-width="1" opacity="0.55"/><line x1="750.25" y1="52.00" x2="750.25" y2="84.50" stroke="#2a8cf2" stroke-width="1" opacity="0.55"/><line x1="752.50" y1="58.00" x2="752.50" y2="68.50" stroke="#2a8cf2" stroke-width="1" opacity="0.55"/><line x1="754.75" y1="58.40" x2="754.75" y2="64.00" stroke="#2a8cf2" stroke-width="1" opacity="0.55"/><line x1="757.00" y1="51.60" x2="757.00" y2="66.00" stroke="#2a8cf2" stroke-width="1" opacity="0.55"/><line x1="759.25" y1="44.00" x2="759.25" y2="62.00" stroke="#2a8cf2" stroke-width="1" opacity="0.55"/><line x1="761.50" y1="48.50" x2="761.50" y2="57.00" stroke="#2a8cf2" stroke-width="1" opacity="0.55"/><line x1="763.75" y1="43.75" x2="763.75" y2="80.00" stroke="#e8323f" stroke-width="1" opacity="0.55"/><line x1="766.00" y1="58.00" x2="766.00" y2="82.25" stroke="#e8323f" stroke-width="1" opacity="0.55"/><line x1="768.25" y1="72.00" x2="768.25" y2="91.00" stroke="#e8323f" stroke-width="1" opacity="0.55"/><line x1="770.40" y1="82.00" x2="770.40" y2="135.75" stroke="#e8323f" stroke-width="1" opacity="0.55"/><line x1="772.70" y1="130.80" x2="772.70" y2="158.50" stroke="#e8323f" stroke-width="1" opacity="0.55"/><line x1="774.80" y1="140.00" x2="774.80" y2="148.50" stroke="#2a8cf2" stroke-width="1" opacity="0.55"/><line x1="777.10" y1="130.10" x2="777.10" y2="149.70" stroke="#2a8cf2" stroke-width="1" opacity="0.55"/><line x1="779.50" y1="128.10" x2="779.50" y2="135.20" stroke="#e8323f" stroke-width="1" opacity="0.55"/></g>
<g><rect x="0.30" y="288.25" width="1.9" height="13.75" fill="#2a8cf2"/><rect x="2.55" y="279.00" width="1.9" height="10.00" fill="#2a8cf2"/><rect x="4.80" y="278.25" width="1.9" height="6.25" fill="#e8323f"/><rect x="7.05" y="277.00" width="1.9" height="7.50" fill="#2a8cf2"/><rect x="9.30" y="277.00" width="1.9" height="5.60" fill="#e8323f"/><rect x="11.55" y="282.00" width="1.9" height="10.60" fill="#e8323f"/><rect x="13.80" y="282.60" width="1.9" height="10.00" fill="#2a8cf2"/><rect x="16.05" y="282.60" width="1.9" height="2.40" fill="#e8323f"/><rect x="18.30" y="284.50" width="1.9" height="9.50" fill="#e8323f"/><rect x="20.55" y="294.00" width="1.9" height="31.60" fill="#e8323f"/><rect x="22.80" y="312.50" width="1.9" height="12.50" fill="#2a8cf2"/><rect x="25.05" y="313.00" width="1.9" height="2.00" fill="#e8323f"/><rect x="27.30" y="312.50" width="1.9" height="2.50" fill="#2a8cf2"/><rect x="29.55" y="303.75" width="1.9" height="10.00" fill="#2a8cf2"/><rect x="31.80" y="303.75" width="1.9" height="6.85" fill="#e8323f"/><rect x="34.05" y="307.00" width="1.9" height="3.60" fill="#2a8cf2"/><rect x="36.30" y="292.00" width="1.9" height="15.00" fill="#2a8cf2"/><rect x="38.55" y="277.00" width="1.9" height="17.00" fill="#2a8cf2"/><rect x="40.80" y="273.25" width="1.9" height="3.75" fill="#2a8cf2"/><rect x="43.05" y="265.00" width="1.9" height="8.25" fill="#2a8cf2"/><rect x="45.30" y="256.90" width="1.9" height="8.85" fill="#2a8cf2"/><rect x="47.55" y="252.50" width="1.9" height="5.50" fill="#2a8cf2"/><rect x="49.80" y="249.40" width="1.9" height="5.60" fill="#2a8cf2"/><rect x="52.05" y="236.90" width="1.9" height="14.10" fill="#2a8cf2"/><rect x="54.30" y="236.90" width="1.9" height="8.70" fill="#e8323f"/><rect x="56.55" y="241.90" width="1.9" height="3.70" fill="#2a8cf2"/><rect x="58.80" y="241.90" width="1.9" height="1.85" fill="#e8323f"/><rect x="61.05" y="231.90" width="1.9" height="11.85" fill="#2a8cf2"/><rect x="63.30" y="231.25" width="1.9" height="3.75" fill="#e8323f"/><rect x="65.55" y="216.25" width="1.9" height="19.35" fill="#2a8cf2"/><rect x="67.80" y="213.75" width="1.9" height="3.15" fill="#2a8cf2"/><rect x="70.05" y="210.60" width="1.9" height="4.40" fill="#2a8cf2"/><rect x="72.30" y="210.00" width="1.9" height="1.90" fill="#e8323f"/><rect x="74.55" y="208.75" width="1.9" height="3.15" fill="#2a8cf2"/><rect x="76.80" y="203.00" width="1.9" height="6.40" fill="#2a8cf2"/><rect x="79.05" y="196.00" width="1.9" height="11.00" fill="#2a8cf2"/><rect x="81.30" y="190.00" width="1.9" height="16.00" fill="#e8323f"/><rect x="83.55" y="188.00" width="1.9" height="15.00" fill="#2a8cf2"/><rect x="85.55" y="180.00" width="1.9" height="15.00" fill="#2a8cf2"/><rect x="87.80" y="162.50" width="1.9" height="20.00" fill="#2a8cf2"/><rect x="90.05" y="147.50" width="1.9" height="15.00" fill="#2a8cf2"/><rect x="92.30" y="145.00" width="1.9" height="10.00" fill="#e8323f"/><rect x="94.55" y="129.00" width="1.9" height="26.00" fill="#2a8cf2"/><rect x="96.80" y="129.00" width="1.9" height="12.00" fill="#e8323f"/><rect x="99.05" y="141.00" width="1.9" height="33.00" fill="#e8323f"/><rect x="101.30" y="172.50" width="1.9" height="26.50" fill="#e8323f"/><rect x="103.55" y="184.00" width="1.9" height="15.00" fill="#2a8cf2"/><rect x="105.80" y="177.50" width="1.9" height="7.50" fill="#2a8cf2"/><rect x="108.05" y="177.50" width="1.9" height="11.50" fill="#e8323f"/><rect x="110.30" y="179.00" width="1.9" height="10.00" fill="#2a8cf2"/><rect x="112.55" y="160.00" width="1.9" height="20.00" fill="#2a8cf2"/><rect x="114.80" y="136.00" width="1.9" height="26.50" fill="#2a8cf2"/><rect x="117.05" y="134.00" width="1.9" height="5.00" fill="#2a8cf2"/><rect x="119.30" y="135.00" width="1.9" height="10.00" fill="#e8323f"/><rect x="121.55" y="136.00" width="1.9" height="15.00" fill="#e8323f"/><rect x="123.80" y="149.00" width="1.9" height="28.50" fill="#e8323f"/><rect x="126.05" y="176.00" width="1.9" height="44.00" fill="#e8323f"/><rect x="128.15" y="220.60" width="1.9" height="28.80" fill="#e8323f"/><rect x="130.45" y="242.50" width="1.9" height="7.50" fill="#2a8cf2"/><rect x="132.65" y="242.50" width="1.9" height="18.75" fill="#e8323f"/><rect x="134.95" y="237.50" width="1.9" height="23.10" fill="#2a8cf2"/><rect x="137.15" y="237.50" width="1.9" height="32.50" fill="#e8323f"/><rect x="139.45" y="266.00" width="1.9" height="4.00" fill="#2a8cf2"/><rect x="141.65" y="266.00" width="1.9" height="3.50" fill="#e8323f"/><rect x="143.95" y="255.60" width="1.9" height="13.40" fill="#2a8cf2"/><rect x="146.15" y="258.00" width="1.9" height="10.00" fill="#e8323f"/><rect x="148.45" y="250.00" width="1.9" height="17.50" fill="#2a8cf2"/><rect x="150.65" y="243.00" width="1.9" height="8.00" fill="#2a8cf2"/><rect x="152.80" y="233.40" width="1.9" height="10.00" fill="#2a8cf2"/><rect x="155.05" y="233.40" width="1.9" height="3.60" fill="#e8323f"/><rect x="157.30" y="236.50" width="1.9" height="6.25" fill="#e8323f"/><rect x="159.55" y="242.00" width="1.9" height="4.50" fill="#e8323f"/><rect x="161.80" y="245.25" width="1.9" height="8.15" fill="#e8323f"/><rect x="164.05" y="252.75" width="1.9" height="20.65" fill="#e8323f"/><rect x="166.30" y="251.50" width="1.9" height="21.90" fill="#2a8cf2"/><rect x="168.55" y="250.90" width="1.9" height="1.30" fill="#2a8cf2"/><rect x="170.80" y="249.00" width="1.9" height="2.50" fill="#2a8cf2"/><rect x="173.05" y="262.75" width="1.9" height="5.00" fill="#2a8cf2"/><rect x="175.30" y="262.75" width="1.9" height="2.50" fill="#e8323f"/><rect x="177.55" y="264.00" width="1.9" height="15.60" fill="#e8323f"/><rect x="179.80" y="277.75" width="1.9" height="13.25" fill="#e8323f"/><rect x="182.05" y="291.00" width="1.9" height="20.00" fill="#e8323f"/><rect x="184.05" y="297.75" width="1.9" height="13.15" fill="#e8323f"/><rect x="186.45" y="295.90" width="1.9" height="14.35" fill="#2a8cf2"/><rect x="188.65" y="295.90" width="1.9" height="21.85" fill="#e8323f"/><rect x="190.95" y="317.00" width="1.9" height="29.00" fill="#e8323f"/><rect x="193.15" y="330.25" width="1.9" height="15.75" fill="#2a8cf2"/><rect x="195.45" y="319.60" width="1.9" height="11.30" fill="#2a8cf2"/><rect x="197.65" y="319.00" width="1.9" height="5.60" fill="#e8323f"/><rect x="199.95" y="314.00" width="1.9" height="10.60" fill="#2a8cf2"/><rect x="202.15" y="314.00" width="1.9" height="6.25" fill="#e8323f"/><rect x="204.45" y="289.60" width="1.9" height="30.65" fill="#2a8cf2"/><rect x="206.65" y="289.60" width="1.9" height="6.90" fill="#e8323f"/><rect x="208.95" y="295.90" width="1.9" height="8.10" fill="#e8323f"/><rect x="211.15" y="304.00" width="1.9" height="31.25" fill="#e8323f"/><rect x="213.45" y="325.90" width="1.9" height="8.70" fill="#2a8cf2"/><rect x="215.65" y="317.75" width="1.9" height="8.75" fill="#2a8cf2"/><rect x="217.95" y="302.00" width="1.9" height="17.00" fill="#2a8cf2"/><rect x="220.15" y="301.50" width="1.9" height="2.50" fill="#e8323f"/><rect x="222.45" y="299.00" width="1.9" height="5.00" fill="#2a8cf2"/><rect x="224.65" y="289.60" width="1.9" height="10.00" fill="#2a8cf2"/><rect x="226.95" y="289.60" width="1.9" height="3.80" fill="#e8323f"/><rect x="229.15" y="292.75" width="1.9" height="6.85" fill="#e8323f"/><rect x="231.45" y="296.50" width="1.9" height="3.10" fill="#2a8cf2"/><rect x="233.65" y="293.40" width="1.9" height="4.35" fill="#2a8cf2"/><rect x="235.95" y="293.40" width="1.9" height="9.35" fill="#e8323f"/><rect x="238.15" y="300.90" width="1.9" height="2.50" fill="#2a8cf2"/><rect x="240.45" y="299.60" width="1.9" height="9.40" fill="#2a8cf2"/><rect x="242.65" y="293.40" width="1.9" height="6.20" fill="#2a8cf2"/><rect x="244.95" y="293.40" width="1.9" height="9.35" fill="#e8323f"/><rect x="247.15" y="290.25" width="1.9" height="12.50" fill="#2a8cf2"/><rect x="249.45" y="290.25" width="1.9" height="8.75" fill="#e8323f"/><rect x="251.65" y="298.40" width="1.9" height="3.60" fill="#e8323f"/><rect x="253.95" y="300.25" width="1.9" height="7.50" fill="#e8323f"/><rect x="256.15" y="307.00" width="1.9" height="2.60" fill="#e8323f"/><rect x="258.45" y="303.40" width="1.9" height="6.20" fill="#2a8cf2"/><rect x="260.65" y="303.40" width="1.9" height="18.60" fill="#e8323f"/><rect x="262.95" y="321.50" width="1.9" height="9.40" fill="#e8323f"/><rect x="265.15" y="330.25" width="1.9" height="3.75" fill="#e8323f"/><rect x="267.45" y="325.25" width="1.9" height="8.75" fill="#2a8cf2"/><rect x="269.65" y="317.00" width="1.9" height="8.90" fill="#2a8cf2"/><rect x="271.95" y="316.50" width="1.9" height="2.50" fill="#e8323f"/><rect x="274.15" y="314.00" width="1.9" height="5.00" fill="#2a8cf2"/><rect x="276.45" y="309.60" width="1.9" height="5.00" fill="#2a8cf2"/><rect x="278.65" y="309.60" width="1.9" height="2.40" fill="#e8323f"/><rect x="280.95" y="309.00" width="1.9" height="5.00" fill="#2a8cf2"/><rect x="283.15" y="305.25" width="1.9" height="4.35" fill="#2a8cf2"/><rect x="285.45" y="297.00" width="1.9" height="8.90" fill="#2a8cf2"/><rect x="287.65" y="297.00" width="1.9" height="8.25" fill="#e8323f"/><rect x="289.95" y="305.25" width="1.9" height="3.15" fill="#e8323f"/><rect x="292.15" y="307.00" width="1.9" height="5.75" fill="#e8323f"/><rect x="294.45" y="303.40" width="1.9" height="10.00" fill="#2a8cf2"/><rect x="296.65" y="298.40" width="1.9" height="5.60" fill="#2a8cf2"/><rect x="298.95" y="296.50" width="1.9" height="3.10" fill="#2a8cf2"/><rect x="301.15" y="297.75" width="1.9" height="7.50" fill="#e8323f"/><rect x="303.45" y="299.00" width="1.9" height="6.25" fill="#2a8cf2"/><rect x="305.65" y="298.40" width="1.9" height="4.35" fill="#e8323f"/><rect x="307.95" y="279.00" width="1.9" height="23.75" fill="#2a8cf2"/><rect x="309.80" y="265.00" width="1.9" height="15.00" fill="#2a8cf2"/><rect x="312.05" y="262.50" width="1.9" height="5.00" fill="#2a8cf2"/><rect x="314.05" y="257.50" width="1.9" height="7.50" fill="#2a8cf2"/><rect x="316.55" y="249.00" width="1.9" height="12.00" fill="#2a8cf2"/><rect x="318.55" y="246.00" width="1.9" height="5.00" fill="#2a8cf2"/><rect x="321.05" y="236.00" width="1.9" height="11.50" fill="#2a8cf2"/><rect x="323.05" y="235.50" width="1.9" height="5.50" fill="#e8323f"/><rect x="325.55" y="234.00" width="1.9" height="8.50" fill="#2a8cf2"/><rect x="327.55" y="234.00" width="1.9" height="10.00" fill="#e8323f"/><rect x="330.05" y="242.50" width="1.9" height="6.50" fill="#e8323f"/><rect x="332.05" y="241.00" width="1.9" height="8.00" fill="#2a8cf2"/><rect x="334.05" y="242.50" width="1.9" height="2.50" fill="#e8323f"/><rect x="336.55" y="244.00" width="1.9" height="3.50" fill="#e8323f"/><rect x="339.05" y="240.00" width="1.9" height="6.00" fill="#2a8cf2"/><rect x="341.05" y="236.00" width="1.9" height="6.50" fill="#2a8cf2"/><rect x="343.45" y="203.40" width="1.9" height="34.10" fill="#2a8cf2"/><rect x="345.65" y="204.00" width="1.9" height="6.90" fill="#e8323f"/><rect x="347.95" y="207.75" width="1.9" height="5.00" fill="#e8323f"/><rect x="350.15" y="202.75" width="1.9" height="10.00" fill="#2a8cf2"/><rect x="352.45" y="195.25" width="1.9" height="8.15" fill="#2a8cf2"/><rect x="354.65" y="195.25" width="1.9" height="15.65" fill="#e8323f"/><rect x="356.95" y="209.60" width="1.9" height="18.15" fill="#e8323f"/><rect x="359.15" y="220.90" width="1.9" height="6.85" fill="#2a8cf2"/><rect x="361.45" y="203.40" width="1.9" height="18.10" fill="#2a8cf2"/><rect x="363.65" y="204.00" width="1.9" height="16.25" fill="#e8323f"/><rect x="365.95" y="219.00" width="1.9" height="4.40" fill="#e8323f"/><rect x="368.05" y="222.50" width="1.9" height="40.00" fill="#e8323f"/><rect x="370.30" y="255.60" width="1.9" height="6.90" fill="#2a8cf2"/><rect x="372.55" y="255.60" width="1.9" height="6.40" fill="#e8323f"/><rect x="374.80" y="262.00" width="1.9" height="1.75" fill="#e8323f"/><rect x="377.05" y="263.00" width="1.9" height="7.60" fill="#e8323f"/><rect x="379.30" y="268.00" width="1.9" height="3.25" fill="#2a8cf2"/><rect x="381.55" y="265.60" width="1.9" height="3.15" fill="#2a8cf2"/><rect x="383.80" y="265.60" width="1.9" height="6.90" fill="#e8323f"/><rect x="386.05" y="272.00" width="1.9" height="8.00" fill="#e8323f"/><rect x="388.30" y="280.00" width="1.9" height="13.75" fill="#e8323f"/><rect x="390.55" y="292.50" width="1.9" height="5.50" fill="#e8323f"/><rect x="392.80" y="280.60" width="1.9" height="17.40" fill="#2a8cf2"/><rect x="395.05" y="270.60" width="1.9" height="11.40" fill="#2a8cf2"/><rect x="397.30" y="267.00" width="1.9" height="3.60" fill="#2a8cf2"/><rect x="399.55" y="267.00" width="1.9" height="4.25" fill="#e8323f"/><rect x="401.80" y="265.60" width="1.9" height="8.80" fill="#2a8cf2"/><rect x="404.05" y="258.75" width="1.9" height="7.50" fill="#2a8cf2"/><rect x="406.30" y="251.25" width="1.9" height="8.15" fill="#2a8cf2"/><rect x="408.55" y="241.00" width="1.9" height="10.25" fill="#2a8cf2"/><rect x="410.80" y="241.00" width="1.9" height="19.60" fill="#e8323f"/><rect x="413.05" y="260.60" width="1.9" height="5.00" fill="#e8323f"/><rect x="415.30" y="263.75" width="1.9" height="6.85" fill="#e8323f"/><rect x="417.55" y="268.75" width="1.9" height="2.50" fill="#2a8cf2"/><rect x="419.80" y="269.40" width="1.9" height="4.35" fill="#e8323f"/><rect x="422.05" y="257.50" width="1.9" height="16.25" fill="#2a8cf2"/><rect x="424.30" y="257.50" width="1.9" height="15.50" fill="#e8323f"/><rect x="426.55" y="265.60" width="1.9" height="7.40" fill="#2a8cf2"/><rect x="428.80" y="265.60" width="1.9" height="9.40" fill="#e8323f"/><rect x="431.05" y="274.40" width="1.9" height="12.50" fill="#e8323f"/><rect x="433.30" y="272.50" width="1.9" height="15.00" fill="#2a8cf2"/><rect x="435.55" y="268.00" width="1.9" height="16.40" fill="#2a8cf2"/><rect x="437.80" y="263.00" width="1.9" height="5.75" fill="#2a8cf2"/><rect x="440.05" y="262.50" width="1.9" height="8.75" fill="#e8323f"/><rect x="442.30" y="268.75" width="1.9" height="13.15" fill="#e8323f"/><rect x="444.55" y="273.00" width="1.9" height="9.50" fill="#2a8cf2"/><rect x="446.80" y="265.60" width="1.9" height="11.30" fill="#2a8cf2"/><rect x="449.05" y="261.90" width="1.9" height="10.60" fill="#2a8cf2"/><rect x="451.30" y="244.00" width="1.9" height="19.75" fill="#2a8cf2"/><rect x="453.35" y="237.50" width="1.9" height="7.50" fill="#2a8cf2"/><rect x="455.55" y="230.00" width="1.9" height="9.00" fill="#2a8cf2"/><rect x="457.80" y="230.00" width="1.9" height="6.00" fill="#e8323f"/><rect x="460.05" y="232.50" width="1.9" height="8.50" fill="#e8323f"/><rect x="462.25" y="236.00" width="1.9" height="6.50" fill="#e8323f"/><rect x="464.45" y="237.50" width="1.9" height="6.50" fill="#2a8cf2"/><rect x="466.65" y="236.00" width="1.9" height="5.00" fill="#2a8cf2"/><rect x="469.05" y="225.40" width="1.9" height="13.60" fill="#2a8cf2"/><rect x="471.30" y="226.00" width="1.9" height="6.25" fill="#e8323f"/><rect x="473.55" y="226.00" width="1.9" height="5.60" fill="#2a8cf2"/><rect x="475.80" y="226.00" width="1.9" height="9.00" fill="#e8323f"/><rect x="478.05" y="223.50" width="1.9" height="12.50" fill="#2a8cf2"/><rect x="480.30" y="223.50" width="1.9" height="2.50" fill="#e8323f"/><rect x="482.55" y="224.75" width="1.9" height="8.75" fill="#e8323f"/><rect x="484.80" y="227.25" width="1.9" height="6.75" fill="#2a8cf2"/><rect x="487.05" y="226.60" width="1.9" height="4.40" fill="#e8323f"/><rect x="489.30" y="227.90" width="1.9" height="3.10" fill="#e8323f"/><rect x="491.55" y="226.60" width="1.9" height="3.80" fill="#2a8cf2"/><rect x="493.80" y="226.60" width="1.9" height="1.90" fill="#e8323f"/><rect x="496.05" y="211.60" width="1.9" height="16.30" fill="#2a8cf2"/><rect x="498.30" y="212.25" width="1.9" height="3.75" fill="#e8323f"/><rect x="500.55" y="213.50" width="1.9" height="11.25" fill="#e8323f"/><rect x="502.80" y="209.00" width="1.9" height="15.75" fill="#2a8cf2"/><rect x="505.05" y="197.90" width="1.9" height="11.85" fill="#2a8cf2"/><rect x="507.30" y="197.90" width="1.9" height="2.50" fill="#e8323f"/><rect x="509.55" y="187.90" width="1.9" height="10.60" fill="#2a8cf2"/><rect x="511.80" y="187.90" width="1.9" height="3.10" fill="#e8323f"/><rect x="514.05" y="181.00" width="1.9" height="10.00" fill="#2a8cf2"/><rect x="516.30" y="181.00" width="1.9" height="8.00" fill="#e8323f"/><rect x="518.55" y="187.90" width="1.9" height="1.85" fill="#2a8cf2"/><rect x="520.80" y="188.50" width="1.9" height="5.00" fill="#e8323f"/><rect x="523.05" y="192.25" width="1.9" height="6.25" fill="#e8323f"/><rect x="525.30" y="197.90" width="1.9" height="4.35" fill="#e8323f"/><rect x="527.55" y="201.60" width="1.9" height="13.80" fill="#e8323f"/><rect x="529.80" y="199.00" width="1.9" height="16.40" fill="#2a8cf2"/><rect x="532.05" y="199.00" width="1.9" height="13.25" fill="#e8323f"/><rect x="534.30" y="204.75" width="1.9" height="7.50" fill="#2a8cf2"/><rect x="536.55" y="194.75" width="1.9" height="10.65" fill="#2a8cf2"/><rect x="538.80" y="194.75" width="1.9" height="10.65" fill="#e8323f"/><rect x="541.05" y="204.00" width="1.9" height="4.50" fill="#e8323f"/><rect x="543.30" y="201.60" width="1.9" height="6.90" fill="#2a8cf2"/><rect x="545.55" y="201.60" width="1.9" height="8.80" fill="#e8323f"/><rect x="547.80" y="206.00" width="1.9" height="3.75" fill="#2a8cf2"/><rect x="550.05" y="206.00" width="1.9" height="2.50" fill="#e8323f"/><rect x="552.30" y="207.25" width="1.9" height="5.65" fill="#e8323f"/><rect x="554.55" y="208.50" width="1.9" height="5.00" fill="#2a8cf2"/><rect x="556.80" y="206.60" width="1.9" height="3.15" fill="#2a8cf2"/><rect x="559.05" y="203.50" width="1.9" height="4.40" fill="#2a8cf2"/><rect x="561.30" y="202.90" width="1.9" height="2.50" fill="#2a8cf2"/><rect x="563.55" y="203.50" width="1.9" height="1.90" fill="#e8323f"/><rect x="565.80" y="195.40" width="1.9" height="10.00" fill="#2a8cf2"/><rect x="568.05" y="195.40" width="1.9" height="3.10" fill="#e8323f"/><rect x="570.30" y="187.90" width="1.9" height="10.60" fill="#2a8cf2"/><rect x="572.55" y="187.25" width="1.9" height="16.75" fill="#e8323f"/><rect x="574.55" y="202.90" width="1.9" height="6.10" fill="#e8323f"/><rect x="576.80" y="202.25" width="1.9" height="8.15" fill="#2a8cf2"/><rect x="579.05" y="199.00" width="1.9" height="5.75" fill="#2a8cf2"/><rect x="581.30" y="199.00" width="1.9" height="7.60" fill="#e8323f"/><rect x="583.55" y="206.00" width="1.9" height="3.75" fill="#e8323f"/><rect x="585.80" y="209.00" width="1.9" height="5.00" fill="#e8323f"/><rect x="588.05" y="211.60" width="1.9" height="2.40" fill="#2a8cf2"/><rect x="590.30" y="209.75" width="1.9" height="3.75" fill="#e8323f"/><rect x="592.55" y="212.25" width="1.9" height="5.00" fill="#e8323f"/><rect x="594.80" y="206.00" width="1.9" height="10.60" fill="#2a8cf2"/><rect x="597.05" y="203.50" width="1.9" height="3.10" fill="#2a8cf2"/><rect x="599.30" y="202.90" width="1.9" height="3.10" fill="#2a8cf2"/><rect x="601.55" y="199.75" width="1.9" height="5.00" fill="#e8323f"/><rect x="603.80" y="199.00" width="1.9" height="5.75" fill="#2a8cf2"/><rect x="606.05" y="199.00" width="1.9" height="5.75" fill="#e8323f"/><rect x="608.30" y="204.00" width="1.9" height="7.60" fill="#e8323f"/><rect x="610.55" y="209.00" width="1.9" height="3.25" fill="#e8323f"/><rect x="612.80" y="209.75" width="1.9" height="3.15" fill="#2a8cf2"/><rect x="615.05" y="194.00" width="1.9" height="16.40" fill="#2a8cf2"/><rect x="617.30" y="195.40" width="1.9" height="2.50" fill="#e8323f"/><rect x="619.55" y="197.25" width="1.9" height="4.35" fill="#e8323f"/><rect x="621.80" y="196.00" width="1.9" height="6.25" fill="#2a8cf2"/><rect x="624.05" y="192.90" width="1.9" height="7.50" fill="#2a8cf2"/><rect x="626.15" y="175.40" width="1.9" height="18.60" fill="#2a8cf2"/><rect x="628.30" y="169.75" width="1.9" height="6.25" fill="#2a8cf2"/><rect x="630.55" y="169.00" width="1.9" height="6.40" fill="#e8323f"/><rect x="632.80" y="168.50" width="1.9" height="7.50" fill="#2a8cf2"/><rect x="635.05" y="146.60" width="1.9" height="22.40" fill="#2a8cf2"/><rect x="637.30" y="137.90" width="1.9" height="9.35" fill="#2a8cf2"/><rect x="639.55" y="138.50" width="1.9" height="25.00" fill="#e8323f"/><rect x="641.80" y="159.75" width="1.9" height="4.25" fill="#2a8cf2"/><rect x="644.05" y="148.50" width="1.9" height="11.90" fill="#2a8cf2"/><rect x="646.30" y="139.75" width="1.9" height="8.75" fill="#2a8cf2"/><rect x="648.55" y="139.00" width="1.9" height="3.90" fill="#e8323f"/><rect x="650.80" y="142.25" width="1.9" height="7.50" fill="#e8323f"/><rect x="653.05" y="149.00" width="1.9" height="5.75" fill="#e8323f"/><rect x="655.30" y="154.00" width="1.9" height="5.00" fill="#e8323f"/><rect x="657.55" y="157.90" width="1.9" height="8.70" fill="#e8323f"/><rect x="659.80" y="166.00" width="1.9" height="6.25" fill="#e8323f"/><rect x="662.05" y="165.40" width="1.9" height="6.85" fill="#e8323f"/><rect x="664.30" y="148.50" width="1.9" height="23.75" fill="#2a8cf2"/><rect x="666.55" y="148.50" width="1.9" height="7.50" fill="#e8323f"/><rect x="668.80" y="155.40" width="1.9" height="5.00" fill="#e8323f"/><rect x="671.05" y="154.00" width="1.9" height="5.75" fill="#2a8cf2"/><rect x="673.30" y="147.25" width="1.9" height="7.50" fill="#2a8cf2"/><rect x="675.55" y="147.25" width="1.9" height="5.65" fill="#e8323f"/><rect x="677.80" y="142.90" width="1.9" height="10.00" fill="#2a8cf2"/><rect x="680.05" y="142.90" width="1.9" height="1.85" fill="#e8323f"/><rect x="682.30" y="142.90" width="1.9" height="1.85" fill="#2a8cf2"/><rect x="684.55" y="143.50" width="1.9" height="2.50" fill="#e8323f"/><rect x="686.80" y="144.75" width="1.9" height="1.85" fill="#2a8cf2"/><rect x="689.05" y="144.75" width="1.9" height="5.65" fill="#e8323f"/><rect x="691.30" y="146.60" width="1.9" height="3.15" fill="#2a8cf2"/><rect x="693.55" y="146.00" width="1.9" height="1.90" fill="#2a8cf2"/><rect x="695.80" y="146.00" width="1.9" height="1.90" fill="#e8323f"/><rect x="698.05" y="144.75" width="1.9" height="9.25" fill="#e8323f"/><rect x="700.30" y="148.50" width="1.9" height="5.50" fill="#2a8cf2"/><rect x="702.55" y="147.90" width="1.9" height="1.85" fill="#2a8cf2"/><rect x="704.80" y="144.75" width="1.9" height="4.25" fill="#2a8cf2"/><rect x="707.05" y="137.90" width="1.9" height="7.50" fill="#2a8cf2"/><rect x="709.30" y="137.90" width="1.9" height="5.00" fill="#e8323f"/><rect x="711.55" y="120.00" width="1.9" height="22.90" fill="#2a8cf2"/><rect x="713.30" y="105.00" width="1.9" height="15.60" fill="#2a8cf2"/><rect x="715.55" y="104.40" width="1.9" height="6.20" fill="#e8323f"/><rect x="717.80" y="104.40" width="1.9" height="5.60" fill="#2a8cf2"/><rect x="720.05" y="97.50" width="1.9" height="7.50" fill="#2a8cf2"/><rect x="722.30" y="91.25" width="1.9" height="6.75" fill="#2a8cf2"/><rect x="724.65" y="69.75" width="1.9" height="22.25" fill="#2a8cf2"/><rect x="726.95" y="69.00" width="1.9" height="7.00" fill="#e8323f"/><rect x="729.05" y="74.00" width="1.9" height="2.60" fill="#2a8cf2"/><rect x="731.55" y="74.00" width="1.9" height="17.60" fill="#e8323f"/><rect x="733.65" y="74.75" width="1.9" height="18.75" fill="#2a8cf2"/><rect x="735.95" y="73.50" width="1.9" height="1.50" fill="#2a8cf2"/><rect x="738.05" y="73.50" width="1.9" height="4.50" fill="#e8323f"/><rect x="740.30" y="69.75" width="1.9" height="8.25" fill="#2a8cf2"/><rect x="742.55" y="69.75" width="1.9" height="2.50" fill="#e8323f"/><rect x="744.80" y="71.60" width="1.9" height="12.40" fill="#e8323f"/><rect x="747.05" y="76.00" width="1.9" height="8.00" fill="#2a8cf2"/><rect x="749.30" y="62.90" width="1.9" height="19.10" fill="#2a8cf2"/><rect x="751.55" y="61.60" width="1.9" height="2.40" fill="#2a8cf2"/><rect x="753.80" y="60.40" width="1.9" height="2.60" fill="#2a8cf2"/><rect x="756.05" y="57.25" width="1.9" height="4.35" fill="#2a8cf2"/><rect x="758.30" y="52.25" width="1.9" height="6.25" fill="#2a8cf2"/><rect x="760.55" y="51.00" width="1.9" height="2.50" fill="#2a8cf2"/><rect x="762.80" y="48.50" width="1.9" height="13.10" fill="#e8323f"/><rect x="765.05" y="60.40" width="1.9" height="19.35" fill="#e8323f"/><rect x="767.30" y="78.50" width="1.9" height="6.90" fill="#e8323f"/><rect x="769.45" y="84.75" width="1.9" height="49.00" fill="#e8323f"/><rect x="771.75" y="132.30" width="1.9" height="14.60" fill="#e8323f"/><rect x="773.85" y="144.00" width="1.9" height="3.00" fill="#2a8cf2"/><rect x="776.15" y="131.10" width="1.9" height="13.90" fill="#2a8cf2"/><rect x="778.55" y="130.50" width="1.9" height="2.50" fill="#e8323f"/></g>
<path d="M0,439.75 L0.00,430.70 L4.00,430.00 L8.00,429.00 L13.40,429.00 L18.70,430.00 L22.70,432.00 L26.80,434.00 L32.00,435.40 L36.00,436.00 L40.00,434.75 L45.50,432.75 L50.80,430.75 L56.00,429.40 L61.50,428.70 L67.00,427.80 L72.00,427.10 L77.60,426.70 L83.00,426.00 L88.00,425.00 L92.30,423.40 L97.70,422.00 L101.70,425.40 L105.70,428.00 L109.70,429.40 L113.70,429.80 L117.80,428.50 L121.80,428.50 L124.40,430.00 L127.00,434.00 L129.80,437.40 L131.50,439.50 L133.00,442.75 L138.00,447.75 L145.00,449.75 L152.50,447.75 L160.00,446.50 L170.00,446.00 L180.00,449.00 L190.00,452.75 L195.00,453.50 L202.50,451.50 L210.00,449.00 L220.00,447.00 L230.00,444.00 L240.00,441.50 L250.00,440.25 L260.00,441.00 L267.50,444.00 L275.00,443.50 L285.00,441.50 L295.00,440.25 L302.50,439.00 L310.00,436.50 L317.50,432.75 L325.00,430.75 L335.00,431.00 L345.00,429.75 L352.50,428.50 L360.00,429.50 L367.50,431.50 L375.00,436.50 L380.00,439.00 L386.00,441.50 L391.00,444.00 L396.00,445.75 L403.50,444.00 L411.00,441.50 L421.00,440.25 L433.50,442.75 L443.50,441.00 L451.00,440.25 L456.00,437.00 L461.00,436.00 L471.00,435.25 L478.50,434.00 L486.00,434.50 L496.00,434.75 L506.00,433.50 L513.50,431.50 L518.50,431.00 L526.00,432.75 L533.50,435.25 L541.00,437.00 L551.00,438.50 L561.00,439.00 L571.00,438.20 L581.00,439.00 L591.00,440.75 L598.50,440.25 L608.50,439.50 L618.50,439.00 L626.00,437.75 L633.50,434.50 L641.00,432.75 L649.50,431.00 L657.00,432.75 L664.50,434.50 L677.00,435.25 L692.00,435.75 L702.00,436.50 L709.50,436.00 L717.00,433.50 L724.50,431.00 L729.50,429.00 L737.00,428.50 L747.00,429.50 L757.00,429.75 L764.50,430.25 L767.00,432.75 L769.50,435.25 L772.00,439.30 L774.50,442.00 L777.00,443.50 L779.50,444.50 L779.50,439.75 Z" fill="#125e37"/>
<g><rect x="0.45" y="430.48" width="1.25" height="9.27" fill="#36c46c"/><rect x="2.70" y="430.09" width="1.25" height="9.66" fill="#36c46c"/><rect x="4.95" y="429.56" width="1.25" height="10.19" fill="#36c46c"/><rect x="7.20" y="429.00" width="1.25" height="10.75" fill="#36c46c"/><rect x="9.45" y="429.00" width="1.25" height="10.75" fill="#36c46c"/><rect x="11.70" y="429.00" width="1.25" height="10.75" fill="#36c46c"/><rect x="13.95" y="429.25" width="1.25" height="10.50" fill="#36c46c"/><rect x="16.20" y="429.68" width="1.25" height="10.07" fill="#36c46c"/><rect x="18.45" y="430.27" width="1.25" height="9.48" fill="#36c46c"/><rect x="20.70" y="431.40" width="1.25" height="8.35" fill="#36c46c"/><rect x="22.95" y="432.51" width="1.25" height="7.24" fill="#36c46c"/><rect x="25.20" y="433.61" width="1.25" height="6.14" fill="#36c46c"/><rect x="27.45" y="434.39" width="1.25" height="5.36" fill="#36c46c"/><rect x="29.70" y="435.00" width="1.25" height="4.75" fill="#36c46c"/><rect x="31.95" y="435.51" width="1.25" height="4.24" fill="#36c46c"/><rect x="34.20" y="435.85" width="1.25" height="3.90" fill="#36c46c"/><rect x="36.45" y="435.61" width="1.25" height="4.14" fill="#36c46c"/><rect x="38.70" y="434.91" width="1.25" height="4.84" fill="#36c46c"/><rect x="40.95" y="434.11" width="1.25" height="5.64" fill="#36c46c"/><rect x="43.20" y="433.30" width="1.25" height="6.45" fill="#36c46c"/><rect x="45.45" y="432.47" width="1.25" height="7.28" fill="#36c46c"/><rect x="47.70" y="431.62" width="1.25" height="8.13" fill="#36c46c"/><rect x="49.95" y="430.77" width="1.25" height="8.98" fill="#36c46c"/><rect x="52.20" y="430.18" width="1.25" height="9.57" fill="#36c46c"/><rect x="54.45" y="429.59" width="1.25" height="10.16" fill="#36c46c"/><rect x="56.70" y="429.21" width="1.25" height="10.54" fill="#36c46c"/><rect x="58.95" y="428.92" width="1.25" height="10.83" fill="#36c46c"/><rect x="61.20" y="428.62" width="1.25" height="11.13" fill="#36c46c"/><rect x="63.45" y="428.25" width="1.25" height="11.50" fill="#36c46c"/><rect x="65.70" y="427.88" width="1.25" height="11.87" fill="#36c46c"/><rect x="67.95" y="427.56" width="1.25" height="12.19" fill="#36c46c"/><rect x="70.20" y="427.24" width="1.25" height="12.51" fill="#36c46c"/><rect x="72.45" y="427.01" width="1.25" height="12.74" fill="#36c46c"/><rect x="74.70" y="426.85" width="1.25" height="12.90" fill="#36c46c"/><rect x="76.95" y="426.68" width="1.25" height="13.07" fill="#36c46c"/><rect x="79.20" y="426.39" width="1.25" height="13.36" fill="#36c46c"/><rect x="81.45" y="426.10" width="1.25" height="13.65" fill="#36c46c"/><rect x="83.70" y="425.70" width="1.25" height="14.05" fill="#36c46c"/><rect x="85.70" y="425.30" width="1.25" height="14.45" fill="#36c46c"/><rect x="87.95" y="424.72" width="1.25" height="15.03" fill="#36c46c"/><rect x="90.20" y="423.88" width="1.25" height="15.87" fill="#36c46c"/><rect x="92.45" y="423.15" width="1.25" height="16.60" fill="#36c46c"/><rect x="94.70" y="422.57" width="1.25" height="17.18" fill="#36c46c"/><rect x="96.95" y="422.04" width="1.25" height="17.71" fill="#36c46c"/><rect x="99.20" y="423.95" width="1.25" height="15.80" fill="#36c46c"/><rect x="101.45" y="425.76" width="1.25" height="13.99" fill="#36c46c"/><rect x="103.70" y="427.22" width="1.25" height="12.53" fill="#36c46c"/><rect x="105.95" y="428.37" width="1.25" height="11.38" fill="#36c46c"/><rect x="108.20" y="429.15" width="1.25" height="10.60" fill="#36c46c"/><rect x="110.45" y="429.56" width="1.25" height="10.19" fill="#36c46c"/><rect x="112.70" y="429.78" width="1.25" height="9.97" fill="#36c46c"/><rect x="114.95" y="429.15" width="1.25" height="10.60" fill="#36c46c"/><rect x="117.20" y="428.50" width="1.25" height="11.25" fill="#36c46c"/><rect x="119.45" y="428.50" width="1.25" height="11.25" fill="#36c46c"/><rect x="121.70" y="428.90" width="1.25" height="10.85" fill="#36c46c"/><rect x="123.95" y="430.54" width="1.25" height="9.21" fill="#36c46c"/><rect x="126.20" y="434.00" width="1.25" height="5.75" fill="#36c46c"/><rect x="128.30" y="436.55" width="1.25" height="3.20" fill="#36c46c"/><rect x="130.60" y="439.38" width="1.25" height="0.37" fill="#36c46c"/><rect x="132.80" y="439.75" width="1.25" height="3.60" fill="#36c46c"/><rect x="135.10" y="439.75" width="1.25" height="5.90" fill="#36c46c"/><rect x="137.30" y="439.75" width="1.25" height="8.03" fill="#36c46c"/><rect x="139.60" y="439.75" width="1.25" height="8.69" fill="#36c46c"/><rect x="141.80" y="439.75" width="1.25" height="9.31" fill="#36c46c"/><rect x="144.10" y="439.75" width="1.25" height="9.97" fill="#36c46c"/><rect x="146.30" y="439.75" width="1.25" height="9.44" fill="#36c46c"/><rect x="148.60" y="439.75" width="1.25" height="8.83" fill="#36c46c"/><rect x="150.80" y="439.75" width="1.25" height="8.24" fill="#36c46c"/><rect x="152.95" y="439.75" width="1.25" height="7.79" fill="#36c46c"/><rect x="155.20" y="439.75" width="1.25" height="7.42" fill="#36c46c"/><rect x="157.45" y="439.75" width="1.25" height="7.04" fill="#36c46c"/><rect x="159.70" y="439.75" width="1.25" height="6.73" fill="#36c46c"/><rect x="161.95" y="439.75" width="1.25" height="6.61" fill="#36c46c"/><rect x="164.20" y="439.75" width="1.25" height="6.50" fill="#36c46c"/><rect x="166.45" y="439.75" width="1.25" height="6.39" fill="#36c46c"/><rect x="168.70" y="439.75" width="1.25" height="6.27" fill="#36c46c"/><rect x="170.95" y="439.75" width="1.25" height="6.77" fill="#36c46c"/><rect x="173.20" y="439.75" width="1.25" height="7.45" fill="#36c46c"/><rect x="175.45" y="439.75" width="1.25" height="8.12" fill="#36c46c"/><rect x="177.70" y="439.75" width="1.25" height="8.80" fill="#36c46c"/><rect x="179.95" y="439.75" width="1.25" height="9.53" fill="#36c46c"/><rect x="182.20" y="439.75" width="1.25" height="10.38" fill="#36c46c"/><rect x="184.20" y="439.75" width="1.25" height="11.12" fill="#36c46c"/><rect x="186.60" y="439.75" width="1.25" height="12.02" fill="#36c46c"/><rect x="188.80" y="439.75" width="1.25" height="12.85" fill="#36c46c"/><rect x="191.10" y="439.75" width="1.25" height="13.29" fill="#36c46c"/><rect x="193.30" y="439.75" width="1.25" height="13.62" fill="#36c46c"/><rect x="195.60" y="439.75" width="1.25" height="13.38" fill="#36c46c"/><rect x="197.80" y="439.75" width="1.25" height="12.79" fill="#36c46c"/><rect x="200.10" y="439.75" width="1.25" height="12.18" fill="#36c46c"/><rect x="202.30" y="439.75" width="1.25" height="11.55" fill="#36c46c"/><rect x="204.60" y="439.75" width="1.25" height="10.78" fill="#36c46c"/><rect x="206.80" y="439.75" width="1.25" height="10.05" fill="#36c46c"/><rect x="209.10" y="439.75" width="1.25" height="9.28" fill="#36c46c"/><rect x="211.30" y="439.75" width="1.25" height="8.83" fill="#36c46c"/><rect x="213.60" y="439.75" width="1.25" height="8.37" fill="#36c46c"/><rect x="215.80" y="439.75" width="1.25" height="7.93" fill="#36c46c"/><rect x="218.10" y="439.75" width="1.25" height="7.47" fill="#36c46c"/><rect x="220.30" y="439.75" width="1.25" height="6.92" fill="#36c46c"/><rect x="222.60" y="439.75" width="1.25" height="6.23" fill="#36c46c"/><rect x="224.80" y="439.75" width="1.25" height="5.57" fill="#36c46c"/><rect x="227.10" y="439.75" width="1.25" height="4.88" fill="#36c46c"/><rect x="229.30" y="439.75" width="1.25" height="4.23" fill="#36c46c"/><rect x="231.60" y="439.75" width="1.25" height="3.65" fill="#36c46c"/><rect x="233.80" y="439.75" width="1.25" height="3.10" fill="#36c46c"/><rect x="236.10" y="439.75" width="1.25" height="2.52" fill="#36c46c"/><rect x="238.30" y="439.75" width="1.25" height="1.98" fill="#36c46c"/><rect x="240.60" y="439.75" width="1.25" height="1.57" fill="#36c46c"/><rect x="242.80" y="439.75" width="1.25" height="1.30" fill="#36c46c"/><rect x="245.10" y="439.75" width="1.25" height="1.01" fill="#36c46c"/><rect x="247.30" y="439.75" width="1.25" height="0.74" fill="#36c46c"/><rect x="249.60" y="439.75" width="1.25" height="0.53" fill="#36c46c"/><rect x="251.80" y="439.75" width="1.25" height="0.69" fill="#36c46c"/><rect x="254.10" y="439.75" width="1.25" height="0.87" fill="#36c46c"/><rect x="256.30" y="439.75" width="1.25" height="1.03" fill="#36c46c"/><rect x="258.60" y="439.75" width="1.25" height="1.20" fill="#36c46c"/><rect x="260.80" y="439.75" width="1.25" height="1.89" fill="#36c46c"/><rect x="263.10" y="439.75" width="1.25" height="2.81" fill="#36c46c"/><rect x="265.30" y="439.75" width="1.25" height="3.69" fill="#36c46c"/><rect x="267.60" y="439.75" width="1.25" height="4.19" fill="#36c46c"/><rect x="269.80" y="439.75" width="1.25" height="4.04" fill="#36c46c"/><rect x="272.10" y="439.75" width="1.25" height="3.89" fill="#36c46c"/><rect x="274.30" y="439.75" width="1.25" height="3.73" fill="#36c46c"/><rect x="276.60" y="439.75" width="1.25" height="3.27" fill="#36c46c"/><rect x="278.80" y="439.75" width="1.25" height="2.83" fill="#36c46c"/><rect x="281.10" y="439.75" width="1.25" height="2.37" fill="#36c46c"/><rect x="283.30" y="439.75" width="1.25" height="1.93" fill="#36c46c"/><rect x="285.60" y="439.75" width="1.25" height="1.57" fill="#36c46c"/><rect x="287.80" y="439.75" width="1.25" height="1.30" fill="#36c46c"/><rect x="290.10" y="439.75" width="1.25" height="1.01" fill="#36c46c"/><rect x="292.30" y="439.75" width="1.25" height="0.74" fill="#36c46c"/><rect x="294.60" y="439.75" width="1.25" height="0.43" fill="#36c46c"/><rect x="296.80" y="439.75" width="1.25" height="0.30" fill="#36c46c"/><rect x="299.10" y="439.43" width="1.25" height="0.32" fill="#36c46c"/><rect x="301.30" y="439.07" width="1.25" height="0.68" fill="#36c46c"/><rect x="303.60" y="438.37" width="1.25" height="1.38" fill="#36c46c"/><rect x="305.80" y="437.63" width="1.25" height="2.12" fill="#36c46c"/><rect x="308.10" y="436.87" width="1.25" height="2.88" fill="#36c46c"/><rect x="309.95" y="436.12" width="1.25" height="3.62" fill="#36c46c"/><rect x="312.20" y="435.00" width="1.25" height="4.75" fill="#36c46c"/><rect x="314.20" y="434.00" width="1.25" height="5.75" fill="#36c46c"/><rect x="316.70" y="432.75" width="1.25" height="7.00" fill="#36c46c"/><rect x="318.70" y="432.22" width="1.25" height="7.53" fill="#36c46c"/><rect x="321.20" y="431.55" width="1.25" height="8.20" fill="#36c46c"/><rect x="323.20" y="431.02" width="1.25" height="8.73" fill="#36c46c"/><rect x="325.70" y="430.79" width="1.25" height="8.96" fill="#36c46c"/><rect x="327.70" y="430.84" width="1.25" height="8.91" fill="#36c46c"/><rect x="330.20" y="430.90" width="1.25" height="8.85" fill="#36c46c"/><rect x="332.20" y="430.95" width="1.25" height="8.80" fill="#36c46c"/><rect x="334.20" y="431.00" width="1.25" height="8.75" fill="#36c46c"/><rect x="336.70" y="430.69" width="1.25" height="9.06" fill="#36c46c"/><rect x="339.20" y="430.38" width="1.25" height="9.38" fill="#36c46c"/><rect x="341.20" y="430.12" width="1.25" height="9.62" fill="#36c46c"/><rect x="343.60" y="429.82" width="1.25" height="9.93" fill="#36c46c"/><rect x="345.80" y="429.48" width="1.25" height="10.27" fill="#36c46c"/><rect x="348.10" y="429.10" width="1.25" height="10.65" fill="#36c46c"/><rect x="350.30" y="428.73" width="1.25" height="11.02" fill="#36c46c"/><rect x="352.60" y="428.62" width="1.25" height="11.13" fill="#36c46c"/><rect x="354.80" y="428.91" width="1.25" height="10.84" fill="#36c46c"/><rect x="357.10" y="429.22" width="1.25" height="10.53" fill="#36c46c"/><rect x="359.30" y="429.53" width="1.25" height="10.22" fill="#36c46c"/><rect x="361.60" y="430.14" width="1.25" height="9.61" fill="#36c46c"/><rect x="363.80" y="430.73" width="1.25" height="9.02" fill="#36c46c"/><rect x="366.10" y="431.34" width="1.25" height="8.41" fill="#36c46c"/><rect x="368.20" y="432.50" width="1.25" height="7.25" fill="#36c46c"/><rect x="370.45" y="434.00" width="1.25" height="5.75" fill="#36c46c"/><rect x="372.70" y="435.50" width="1.25" height="4.25" fill="#36c46c"/><rect x="374.95" y="436.88" width="1.25" height="2.88" fill="#36c46c"/><rect x="377.20" y="438.00" width="1.25" height="1.75" fill="#36c46c"/><rect x="379.45" y="439.10" width="1.25" height="0.65" fill="#36c46c"/><rect x="381.70" y="439.75" width="1.25" height="0.30" fill="#36c46c"/><rect x="383.95" y="439.75" width="1.25" height="1.23" fill="#36c46c"/><rect x="386.20" y="439.75" width="1.25" height="2.25" fill="#36c46c"/><rect x="388.45" y="439.75" width="1.25" height="3.38" fill="#36c46c"/><rect x="390.70" y="439.75" width="1.25" height="4.43" fill="#36c46c"/><rect x="392.95" y="439.75" width="1.25" height="5.21" fill="#36c46c"/><rect x="395.20" y="439.75" width="1.25" height="6.00" fill="#36c46c"/><rect x="397.45" y="439.75" width="1.25" height="5.48" fill="#36c46c"/><rect x="399.70" y="439.75" width="1.25" height="4.95" fill="#36c46c"/><rect x="401.95" y="439.75" width="1.25" height="4.43" fill="#36c46c"/><rect x="404.20" y="439.75" width="1.25" height="3.75" fill="#36c46c"/><rect x="406.45" y="439.75" width="1.25" height="3.00" fill="#36c46c"/><rect x="408.70" y="439.75" width="1.25" height="2.25" fill="#36c46c"/><rect x="410.95" y="439.75" width="1.25" height="1.66" fill="#36c46c"/><rect x="413.20" y="439.75" width="1.25" height="1.38" fill="#36c46c"/><rect x="415.45" y="439.75" width="1.25" height="1.09" fill="#36c46c"/><rect x="417.70" y="439.75" width="1.25" height="0.81" fill="#36c46c"/><rect x="419.95" y="439.75" width="1.25" height="0.53" fill="#36c46c"/><rect x="422.20" y="439.75" width="1.25" height="0.90" fill="#36c46c"/><rect x="424.45" y="439.75" width="1.25" height="1.35" fill="#36c46c"/><rect x="426.70" y="439.75" width="1.25" height="1.80" fill="#36c46c"/><rect x="428.95" y="439.75" width="1.25" height="2.25" fill="#36c46c"/><rect x="431.20" y="439.75" width="1.25" height="2.70" fill="#36c46c"/><rect x="433.45" y="439.75" width="1.25" height="2.87" fill="#36c46c"/><rect x="435.70" y="439.75" width="1.25" height="2.48" fill="#36c46c"/><rect x="437.95" y="439.75" width="1.25" height="2.08" fill="#36c46c"/><rect x="440.20" y="439.75" width="1.25" height="1.69" fill="#36c46c"/><rect x="442.45" y="439.75" width="1.25" height="1.29" fill="#36c46c"/><rect x="444.70" y="439.75" width="1.25" height="1.05" fill="#36c46c"/><rect x="446.95" y="439.75" width="1.25" height="0.82" fill="#36c46c"/><rect x="449.20" y="439.75" width="1.25" height="0.60" fill="#36c46c"/><rect x="451.45" y="439.44" width="1.25" height="0.31" fill="#36c46c"/><rect x="453.50" y="438.11" width="1.25" height="1.64" fill="#36c46c"/><rect x="455.70" y="436.90" width="1.25" height="2.85" fill="#36c46c"/><rect x="457.95" y="436.45" width="1.25" height="3.30" fill="#36c46c"/><rect x="460.20" y="436.00" width="1.25" height="3.75" fill="#36c46c"/><rect x="462.40" y="435.83" width="1.25" height="3.92" fill="#36c46c"/><rect x="464.60" y="435.67" width="1.25" height="4.08" fill="#36c46c"/><rect x="466.80" y="435.50" width="1.25" height="4.25" fill="#36c46c"/><rect x="469.20" y="435.32" width="1.25" height="4.43" fill="#36c46c"/><rect x="471.45" y="435.04" width="1.25" height="4.71" fill="#36c46c"/><rect x="473.70" y="434.67" width="1.25" height="5.08" fill="#36c46c"/><rect x="475.95" y="434.29" width="1.25" height="5.46" fill="#36c46c"/><rect x="478.20" y="434.03" width="1.25" height="5.72" fill="#36c46c"/><rect x="480.45" y="434.18" width="1.25" height="5.57" fill="#36c46c"/><rect x="482.70" y="434.33" width="1.25" height="5.42" fill="#36c46c"/><rect x="484.95" y="434.48" width="1.25" height="5.27" fill="#36c46c"/><rect x="487.20" y="434.55" width="1.25" height="5.20" fill="#36c46c"/><rect x="489.45" y="434.61" width="1.25" height="5.14" fill="#36c46c"/><rect x="491.70" y="434.66" width="1.25" height="5.09" fill="#36c46c"/><rect x="493.95" y="434.72" width="1.25" height="5.03" fill="#36c46c"/><rect x="496.20" y="434.62" width="1.25" height="5.12" fill="#36c46c"/><rect x="498.45" y="434.34" width="1.25" height="5.41" fill="#36c46c"/><rect x="500.70" y="434.06" width="1.25" height="5.69" fill="#36c46c"/><rect x="502.95" y="433.78" width="1.25" height="5.97" fill="#36c46c"/><rect x="505.20" y="433.50" width="1.25" height="6.25" fill="#36c46c"/><rect x="507.45" y="432.90" width="1.25" height="6.85" fill="#36c46c"/><rect x="509.70" y="432.30" width="1.25" height="7.45" fill="#36c46c"/><rect x="511.95" y="431.70" width="1.25" height="8.05" fill="#36c46c"/><rect x="514.20" y="431.35" width="1.25" height="8.40" fill="#36c46c"/><rect x="516.45" y="431.12" width="1.25" height="8.62" fill="#36c46c"/><rect x="518.70" y="431.23" width="1.25" height="8.52" fill="#36c46c"/><rect x="520.95" y="431.76" width="1.25" height="7.99" fill="#36c46c"/><rect x="523.20" y="432.28" width="1.25" height="7.47" fill="#36c46c"/><rect x="525.45" y="432.83" width="1.25" height="6.92" fill="#36c46c"/><rect x="527.70" y="433.58" width="1.25" height="6.17" fill="#36c46c"/><rect x="529.95" y="434.33" width="1.25" height="5.42" fill="#36c46c"/><rect x="532.20" y="435.08" width="1.25" height="4.67" fill="#36c46c"/><rect x="534.45" y="435.66" width="1.25" height="4.09" fill="#36c46c"/><rect x="536.70" y="436.18" width="1.25" height="3.57" fill="#36c46c"/><rect x="538.95" y="436.71" width="1.25" height="3.04" fill="#36c46c"/><rect x="541.20" y="437.15" width="1.25" height="2.60" fill="#36c46c"/><rect x="543.45" y="437.49" width="1.25" height="2.26" fill="#36c46c"/><rect x="545.70" y="437.82" width="1.25" height="1.93" fill="#36c46c"/><rect x="547.95" y="438.16" width="1.25" height="1.59" fill="#36c46c"/><rect x="550.20" y="438.50" width="1.25" height="1.25" fill="#36c46c"/><rect x="552.45" y="438.61" width="1.25" height="1.14" fill="#36c46c"/><rect x="554.70" y="438.73" width="1.25" height="1.02" fill="#36c46c"/><rect x="556.95" y="438.84" width="1.25" height="0.91" fill="#36c46c"/><rect x="559.20" y="438.95" width="1.25" height="0.80" fill="#36c46c"/><rect x="561.45" y="438.90" width="1.25" height="0.85" fill="#36c46c"/><rect x="563.70" y="438.72" width="1.25" height="1.03" fill="#36c46c"/><rect x="565.95" y="438.54" width="1.25" height="1.21" fill="#36c46c"/><rect x="568.20" y="438.36" width="1.25" height="1.39" fill="#36c46c"/><rect x="570.45" y="438.22" width="1.25" height="1.53" fill="#36c46c"/><rect x="572.70" y="438.40" width="1.25" height="1.35" fill="#36c46c"/><rect x="574.70" y="438.56" width="1.25" height="1.19" fill="#36c46c"/><rect x="576.95" y="438.74" width="1.25" height="1.01" fill="#36c46c"/><rect x="579.20" y="438.92" width="1.25" height="0.83" fill="#36c46c"/><rect x="581.45" y="439.22" width="1.25" height="0.53" fill="#36c46c"/><rect x="583.70" y="439.61" width="1.25" height="0.30" fill="#36c46c"/><rect x="585.95" y="439.75" width="1.25" height="0.30" fill="#36c46c"/><rect x="588.20" y="439.75" width="1.25" height="0.65" fill="#36c46c"/><rect x="590.45" y="439.75" width="1.25" height="0.98" fill="#36c46c"/><rect x="592.70" y="439.75" width="1.25" height="0.83" fill="#36c46c"/><rect x="594.95" y="439.75" width="1.25" height="0.68" fill="#36c46c"/><rect x="597.20" y="439.75" width="1.25" height="0.53" fill="#36c46c"/><rect x="599.45" y="439.75" width="1.25" height="0.37" fill="#36c46c"/><rect x="601.70" y="439.75" width="1.25" height="0.30" fill="#36c46c"/><rect x="603.95" y="439.75" width="1.25" height="0.30" fill="#36c46c"/><rect x="606.20" y="439.61" width="1.25" height="0.30" fill="#36c46c"/><rect x="608.45" y="439.46" width="1.25" height="0.30" fill="#36c46c"/><rect x="610.70" y="439.35" width="1.25" height="0.40" fill="#36c46c"/><rect x="612.95" y="439.24" width="1.25" height="0.51" fill="#36c46c"/><rect x="615.20" y="439.12" width="1.25" height="0.62" fill="#36c46c"/><rect x="617.45" y="439.01" width="1.25" height="0.74" fill="#36c46c"/><rect x="619.70" y="438.67" width="1.25" height="1.08" fill="#36c46c"/><rect x="621.95" y="438.29" width="1.25" height="1.46" fill="#36c46c"/><rect x="624.20" y="437.92" width="1.25" height="1.83" fill="#36c46c"/><rect x="626.30" y="437.27" width="1.25" height="2.48" fill="#36c46c"/><rect x="628.45" y="436.34" width="1.25" height="3.41" fill="#36c46c"/><rect x="630.70" y="435.37" width="1.25" height="4.38" fill="#36c46c"/><rect x="632.95" y="434.44" width="1.25" height="5.31" fill="#36c46c"/><rect x="635.20" y="433.92" width="1.25" height="5.83" fill="#36c46c"/><rect x="637.45" y="433.39" width="1.25" height="6.36" fill="#36c46c"/><rect x="639.70" y="432.87" width="1.25" height="6.88" fill="#36c46c"/><rect x="641.95" y="432.39" width="1.25" height="7.36" fill="#36c46c"/><rect x="644.20" y="431.93" width="1.25" height="7.82" fill="#36c46c"/><rect x="646.45" y="431.46" width="1.25" height="8.29" fill="#36c46c"/><rect x="648.70" y="431.00" width="1.25" height="8.75" fill="#36c46c"/><rect x="650.95" y="431.52" width="1.25" height="8.23" fill="#36c46c"/><rect x="653.20" y="432.05" width="1.25" height="7.70" fill="#36c46c"/><rect x="655.45" y="432.57" width="1.25" height="7.18" fill="#36c46c"/><rect x="657.70" y="433.10" width="1.25" height="6.65" fill="#36c46c"/><rect x="659.95" y="433.62" width="1.25" height="6.12" fill="#36c46c"/><rect x="662.20" y="434.15" width="1.25" height="5.60" fill="#36c46c"/><rect x="664.45" y="434.55" width="1.25" height="5.20" fill="#36c46c"/><rect x="666.70" y="434.68" width="1.25" height="5.07" fill="#36c46c"/><rect x="668.95" y="434.81" width="1.25" height="4.94" fill="#36c46c"/><rect x="671.20" y="434.95" width="1.25" height="4.80" fill="#36c46c"/><rect x="673.45" y="435.08" width="1.25" height="4.67" fill="#36c46c"/><rect x="675.70" y="435.22" width="1.25" height="4.53" fill="#36c46c"/><rect x="677.95" y="435.31" width="1.25" height="4.44" fill="#36c46c"/><rect x="680.20" y="435.38" width="1.25" height="4.37" fill="#36c46c"/><rect x="682.45" y="435.46" width="1.25" height="4.29" fill="#36c46c"/><rect x="684.70" y="435.53" width="1.25" height="4.22" fill="#36c46c"/><rect x="686.95" y="435.61" width="1.25" height="4.14" fill="#36c46c"/><rect x="689.20" y="435.68" width="1.25" height="4.07" fill="#36c46c"/><rect x="691.45" y="435.77" width="1.25" height="3.98" fill="#36c46c"/><rect x="693.70" y="435.94" width="1.25" height="3.81" fill="#36c46c"/><rect x="695.95" y="436.11" width="1.25" height="3.64" fill="#36c46c"/><rect x="698.20" y="436.27" width="1.25" height="3.48" fill="#36c46c"/><rect x="700.45" y="436.44" width="1.25" height="3.31" fill="#36c46c"/><rect x="702.70" y="436.40" width="1.25" height="3.35" fill="#36c46c"/><rect x="704.95" y="436.25" width="1.25" height="3.50" fill="#36c46c"/><rect x="707.20" y="436.10" width="1.25" height="3.65" fill="#36c46c"/><rect x="709.45" y="435.75" width="1.25" height="4.00" fill="#36c46c"/><rect x="711.70" y="435.00" width="1.25" height="4.75" fill="#36c46c"/><rect x="713.45" y="434.42" width="1.25" height="5.33" fill="#36c46c"/><rect x="715.70" y="433.67" width="1.25" height="6.08" fill="#36c46c"/><rect x="717.95" y="432.92" width="1.25" height="6.83" fill="#36c46c"/><rect x="720.20" y="432.17" width="1.25" height="7.58" fill="#36c46c"/><rect x="722.45" y="431.42" width="1.25" height="8.33" fill="#36c46c"/><rect x="724.80" y="430.56" width="1.25" height="9.19" fill="#36c46c"/><rect x="727.10" y="429.64" width="1.25" height="10.11" fill="#36c46c"/><rect x="729.20" y="428.97" width="1.25" height="10.78" fill="#36c46c"/><rect x="731.70" y="428.80" width="1.25" height="10.95" fill="#36c46c"/><rect x="733.80" y="428.66" width="1.25" height="11.09" fill="#36c46c"/><rect x="736.10" y="428.51" width="1.25" height="11.24" fill="#36c46c"/><rect x="738.20" y="428.70" width="1.25" height="11.05" fill="#36c46c"/><rect x="740.45" y="428.93" width="1.25" height="10.82" fill="#36c46c"/><rect x="742.70" y="429.15" width="1.25" height="10.60" fill="#36c46c"/><rect x="744.95" y="429.38" width="1.25" height="10.38" fill="#36c46c"/><rect x="747.20" y="429.52" width="1.25" height="10.23" fill="#36c46c"/><rect x="749.45" y="429.58" width="1.25" height="10.17" fill="#36c46c"/><rect x="751.70" y="429.64" width="1.25" height="10.11" fill="#36c46c"/><rect x="753.95" y="429.69" width="1.25" height="10.06" fill="#36c46c"/><rect x="756.20" y="429.75" width="1.25" height="10.00" fill="#36c46c"/><rect x="758.45" y="429.90" width="1.25" height="9.85" fill="#36c46c"/><rect x="760.70" y="430.05" width="1.25" height="9.70" fill="#36c46c"/><rect x="762.95" y="430.20" width="1.25" height="9.55" fill="#36c46c"/><rect x="765.20" y="431.75" width="1.25" height="8.00" fill="#36c46c"/><rect x="767.45" y="434.00" width="1.25" height="5.75" fill="#36c46c"/><rect x="769.60" y="436.71" width="1.25" height="3.04" fill="#36c46c"/><rect x="771.90" y="439.75" width="1.25" height="0.31" fill="#36c46c"/><rect x="774.00" y="439.75" width="1.25" height="2.43" fill="#36c46c"/><rect x="776.30" y="439.75" width="1.25" height="3.79" fill="#36c46c"/><rect x="778.70" y="439.75" width="1.25" height="4.75" fill="#36c46c"/></g>
<polyline fill="none" stroke="#a02638" stroke-width="0.8" points="0.00,431.40 6.70,430.30 13.40,429.40 20.00,429.70 26.80,431.40 33.50,433.80 40.00,435.20 45.50,434.50 53.50,432.00 61.50,430.00 69.60,428.70 77.60,427.80 85.60,427.00 93.70,425.40 100.40,424.00 105.70,424.50 112.40,426.30 120.40,428.00 125.80,429.40 131.00,432.00 137.50,436.50 145.00,444.00 152.50,447.75 160.00,448.25 170.00,447.25 177.50,446.50 185.00,447.75 195.00,451.00 202.50,452.25 210.00,451.50 220.00,449.00 230.00,446.50 240.00,443.50 250.00,441.50 260.00,441.00 270.00,442.75 280.00,443.25 290.00,442.00 300.00,440.25 310.00,438.50 320.00,435.25 330.00,432.25 340.00,431.00 350.00,430.25 360.00,429.50 367.50,430.25 375.00,433.50 386.00,439.00 393.50,442.75 401.00,445.25 408.50,444.00 416.00,442.00 426.00,440.25 436.00,441.00 446.00,441.50 453.50,440.25 461.00,438.50 471.00,436.00 481.00,434.75 496.00,434.75 506.00,434.00 516.00,432.25 526.00,432.00 536.00,434.00 546.00,436.50 556.00,438.00 571.00,438.25 586.00,439.00 598.50,440.00 611.00,440.00 621.00,439.00 631.00,437.00 641.00,434.50 652.00,432.00 662.00,432.75 672.00,434.00 687.00,435.25 702.00,436.00 712.00,436.50 722.00,434.50 729.50,432.25 737.00,430.25 747.00,429.50 757.00,429.75 764.50,429.75 769.50,431.00 774.50,433.50 779.00,436.50"/>
<line x1="0" y1="463.2" x2="990" y2="463.2" stroke="#9aa2b4" stroke-width="0.9" stroke-dasharray="1.5 1.5"/>
<line x1="0" y1="471.6" x2="990" y2="471.6" stroke="#9aa2b4" stroke-width="0.9" stroke-dasharray="1.5 1.5"/>
<polyline fill="none" stroke="#2252c4" stroke-width="0.95" points="0.00,461.50 8.00,461.80 12.00,463.10 17.40,463.50 21.40,467.80 26.80,467.30 32.00,466.20 37.50,464.20 42.80,463.80 48.00,462.50 53.50,462.00 58.90,462.90 64.20,462.20 69.60,461.50 75.00,461.30 79.00,460.60 83.00,462.00 88.30,460.60 92.30,461.50 95.00,460.60 99.00,463.50 103.00,465.60 108.40,466.20 113.70,464.20 119.00,463.50 123.00,466.20 127.00,469.20 131.00,470.50 135.00,471.30 140.00,470.00 152.50,467.00 165.00,469.00 180.00,469.50 192.50,471.00 205.00,467.75 217.50,466.50 230.00,467.00 245.00,467.25 255.00,467.75 265.00,470.25 272.50,467.75 285.00,465.25 295.00,467.00 305.00,465.75 310.00,462.75 320.00,461.50 330.00,462.75 340.00,463.50 345.00,461.00 355.00,462.75 360.00,465.75 365.00,464.00 370.00,467.75 386.00,468.25 391.00,471.00 398.50,467.75 408.50,465.75 413.50,467.75 423.50,467.25 431.00,469.00 438.50,467.00 446.00,467.75 453.50,464.75 461.00,465.25 471.00,464.75 481.00,465.75 491.00,465.25 501.00,464.00 511.00,463.50 518.50,464.00 526.00,466.50 531.00,467.25 538.50,465.75 548.50,467.25 558.50,466.50 568.50,465.25 576.00,467.00 586.00,468.25 596.00,467.00 603.50,465.75 611.00,467.75 616.00,465.25 623.50,466.00 631.00,463.50 636.00,461.50 641.00,464.00 642.00,464.50 649.50,463.50 657.00,466.00 662.00,467.25 669.50,465.75 679.50,465.25 692.00,465.25 699.50,466.50 707.00,465.25 712.00,462.75 719.50,462.25 724.50,460.75 729.50,462.25 737.00,463.25 744.50,465.25 752.00,463.50 762.00,463.25 764.50,464.75 769.50,470.25 772.00,471.50 777.00,469.75 779.00,469.00"/>
<rect x="0" y="418.2" width="991" height="2.5" fill="#9ba3b4"/>
<rect x="0" y="454.7" width="991" height="2.2" fill="#9ba3b4"/>
<rect x="991" y="23.50" width="1.4" height="1" fill="#909ab2"/>
<text x="994.3" y="26.68" font-family="Liberation Sans, sans-serif" font-size="7.5" font-weight="normal" fill="#d8dbe2" textLength="25.7" lengthAdjust="spacingAndGlyphs" text-anchor="start">4593.00</text>
<rect x="991" y="50.95" width="1.4" height="1" fill="#909ab2"/>
<text x="994.3" y="54.14" font-family="Liberation Sans, sans-serif" font-size="7.5" font-weight="normal" fill="#d8dbe2" textLength="25.7" lengthAdjust="spacingAndGlyphs" text-anchor="start">4534.35</text>
<rect x="991" y="78.40" width="1.4" height="1" fill="#909ab2"/>
<text x="994.3" y="81.59" font-family="Liberation Sans, sans-serif" font-size="7.5" font-weight="normal" fill="#d8dbe2" textLength="25.7" lengthAdjust="spacingAndGlyphs" text-anchor="start">4475.70</text>
<rect x="991" y="105.85" width="1.4" height="1" fill="#909ab2"/>
<text x="994.3" y="109.03" font-family="Liberation Sans, sans-serif" font-size="7.5" font-weight="normal" fill="#d8dbe2" textLength="25.7" lengthAdjust="spacingAndGlyphs" text-anchor="start">4417.05</text>
<rect x="991" y="160.75" width="1.4" height="1" fill="#909ab2"/>
<text x="994.3" y="163.94" font-family="Liberation Sans, sans-serif" font-size="7.5" font-weight="normal" fill="#d8dbe2" textLength="25.7" lengthAdjust="spacingAndGlyphs" text-anchor="start">4299.75</text>
<rect x="991" y="188.20" width="1.4" height="1" fill="#909ab2"/>
<text x="994.3" y="191.38" font-family="Liberation Sans, sans-serif" font-size="7.5" font-weight="normal" fill="#d8dbe2" textLength="25.7" lengthAdjust="spacingAndGlyphs" text-anchor="start">4241.10</text>
<rect x="991" y="215.65" width="1.4" height="1" fill="#909ab2"/>
<text x="994.3" y="218.84" font-family="Liberation Sans, sans-serif" font-size="7.5" font-weight="normal" fill="#d8dbe2" textLength="25.7" lengthAdjust="spacingAndGlyphs" text-anchor="start">4182.45</text>
<rect x="991" y="243.10" width="1.4" height="1" fill="#909ab2"/>
<text x="994.3" y="246.28" font-family="Liberation Sans, sans-serif" font-size="7.5" font-weight="normal" fill="#d8dbe2" textLength="25.7" lengthAdjust="spacingAndGlyphs" text-anchor="start">4124.95</text>
<rect x="991" y="270.55" width="1.4" height="1" fill="#909ab2"/>
<text x="994.3" y="273.73" font-family="Liberation Sans, sans-serif" font-size="7.5" font-weight="normal" fill="#d8dbe2" textLength="25.7" lengthAdjust="spacingAndGlyphs" text-anchor="start">4066.30</text>
<rect x="991" y="298.00" width="1.4" height="1" fill="#909ab2"/>
<text x="994.3" y="301.19" font-family="Liberation Sans, sans-serif" font-size="7.5" font-weight="normal" fill="#d8dbe2" textLength="25.7" lengthAdjust="spacingAndGlyphs" text-anchor="start">4007.65</text>
<rect x="991" y="325.45" width="1.4" height="1" fill="#909ab2"/>
<text x="994.3" y="328.63" font-family="Liberation Sans, sans-serif" font-size="7.5" font-weight="normal" fill="#d8dbe2" textLength="25.7" lengthAdjust="spacingAndGlyphs" text-anchor="start">3949.00</text>
<rect x="991" y="352.90" width="1.4" height="1" fill="#909ab2"/>
<text x="994.3" y="356.08" font-family="Liberation Sans, sans-serif" font-size="7.5" font-weight="normal" fill="#d8dbe2" textLength="25.7" lengthAdjust="spacingAndGlyphs" text-anchor="start">3890.35</text>
<rect x="991" y="380.35" width="1.4" height="1" fill="#909ab2"/>
<text x="994.3" y="383.53" font-family="Liberation Sans, sans-serif" font-size="7.5" font-weight="normal" fill="#d8dbe2" textLength="25.7" lengthAdjust="spacingAndGlyphs" text-anchor="start">3831.70</text>
<rect x="991" y="407.80" width="1.4" height="1" fill="#909ab2"/>
<text x="994.3" y="410.99" font-family="Liberation Sans, sans-serif" font-size="7.5" font-weight="normal" fill="#d8dbe2" textLength="25.7" lengthAdjust="spacingAndGlyphs" text-anchor="start">3773.05</text>
<rect x="991.5" y="128" width="31.5" height="8" fill="#ffffff"/>
<text x="994.3" y="134.78" font-family="Liberation Sans, sans-serif" font-size="7.5" font-weight="normal" fill="#25355a" textLength="25.7" lengthAdjust="spacingAndGlyphs" text-anchor="start">4360.75</text>
<text x="992.6" y="427.69" font-family="Liberation Sans, sans-serif" font-size="7.5" font-weight="normal" fill="#d8dbe2" textLength="21.8" lengthAdjust="spacingAndGlyphs" text-anchor="start">76.844</text>
<text x="992.6" y="443.08" font-family="Liberation Sans, sans-serif" font-size="7.5" font-weight="normal" fill="#d8dbe2" textLength="14" lengthAdjust="spacingAndGlyphs" text-anchor="start">0.00</text>
<rect x="991" y="439.9" width="1.2" height="1" fill="#909ab2"/>
<text x="992.6" y="453.58" font-family="Liberation Sans, sans-serif" font-size="7.5" font-weight="normal" fill="#d8dbe2" textLength="23.5" lengthAdjust="spacingAndGlyphs" text-anchor="start">-60.741</text>
<text x="992.6" y="464.19" font-family="Liberation Sans, sans-serif" font-size="7.5" font-weight="normal" fill="#d8dbe2" textLength="10.5" lengthAdjust="spacingAndGlyphs" text-anchor="start">100</text>
<text x="992.6" y="467.19" font-family="Liberation Sans, sans-serif" font-size="7.5" font-weight="normal" fill="#d8dbe2" textLength="7" lengthAdjust="spacingAndGlyphs" text-anchor="start">70</text>
<text x="992.6" y="474.88" font-family="Liberation Sans, sans-serif" font-size="7.5" font-weight="normal" fill="#d8dbe2" textLength="7" lengthAdjust="spacingAndGlyphs" text-anchor="start">30</text>
<text x="0" y="428.99" font-family="Liberation Sans, sans-serif" font-size="7.5" font-weight="normal" fill="#d8dbe2" textLength="54.2" lengthAdjust="spacingAndGlyphs" text-anchor="start">) -16.536 12.947</text>
<text x="1" y="464.69" font-family="Liberation Sans, sans-serif" font-size="7.5" font-weight="normal" fill="#c8ccd6" textLength="7" lengthAdjust="spacingAndGlyphs" text-anchor="start">85</text>
<text x="0" y="10.99" font-family="Liberation Sans, sans-serif" font-size="7.5" font-weight="normal" fill="#c8ccd6" textLength="2.5" lengthAdjust="spacingAndGlyphs" text-anchor="start">4</text>
<path d="M778.8,2.8 L785.3,2.8 L782.05,6.3 Z" fill="#8c99b0"/>
<text x="360.9" y="37.4" font-family="Liberation Sans, sans-serif" font-size="15.6" font-weight="bold" fill="#ffffff" stroke="#ffffff" stroke-width="0.7" textLength="45.8" lengthAdjust="spacingAndGlyphs" text-anchor="start">GOLD</text>
<text x="350.2" y="60.9" font-family="Liberation Sans, sans-serif" font-size="15.9" font-weight="bold" fill="#ffffff" stroke="#ffffff" stroke-width="0.7" textLength="72.2" lengthAdjust="spacingAndGlyphs" text-anchor="start">H4 Chart</text>
<text x="905.8" y="17.4" font-family="Liberation Sans, sans-serif" font-size="12" font-weight="bold" fill="#2a8ff6" stroke="#2a8ff6" stroke-width="0.55" textLength="28.2" lengthAdjust="spacingAndGlyphs" text-anchor="start">4600</text>
<text x="856.9" y="38.4" font-family="Liberation Sans, sans-serif" font-size="11.8" font-weight="bold" fill="#2a8ff6" stroke="#2a8ff6" stroke-width="0.55" textLength="28.3" lengthAdjust="spacingAndGlyphs" text-anchor="start">4485</text>
<text x="825.0" y="64.9" font-family="Liberation Sans, sans-serif" font-size="11.8" font-weight="bold" fill="#2a8ff6" stroke="#2a8ff6" stroke-width="0.55" textLength="28.3" lengthAdjust="spacingAndGlyphs" text-anchor="start">4430</text>
<text x="801.0" y="281.9" font-family="Liberation Sans, sans-serif" font-size="12.2" font-weight="bold" fill="#2a8ff6" stroke="#2a8ff6" stroke-width="0.55" textLength="29.3" lengthAdjust="spacingAndGlyphs" text-anchor="start">4165</text>
<text x="778.2" y="163.7" font-family="Liberation Sans, sans-serif" font-size="8.9" font-weight="bold" fill="#2a8ff6" stroke="#2a8ff6" stroke-width="0.45" textLength="24.8" lengthAdjust="spacingAndGlyphs" text-anchor="start">4300</text>
<text x="778.2" y="101.6" font-family="Liberation Sans, sans-serif" font-size="11.8" font-weight="bold" fill="#ffffff" stroke="#ffffff" stroke-width="0.55" textLength="47.6" lengthAdjust="spacingAndGlyphs" text-anchor="start">4405-10</text>
<text x="781" y="199.4" font-family="Liberation Sans, sans-serif" font-size="11.6" font-weight="bold" fill="#ffffff" stroke="#ffffff" stroke-width="0.55" textLength="47.6" lengthAdjust="spacingAndGlyphs" text-anchor="start">4235-45</text>
<path d="M839.5,47.6 L845.1,35.0" fill="none" stroke="#ee1c25" stroke-width="2.0" stroke-linejoin="round"/>
<path d="M841.2,38.0 L845.1,35.0 L846.4,41.3" fill="none" stroke="#ee1c25" stroke-width="2.0" stroke-linejoin="round"/>
<path d="M834.8,92.9 L844.4,70.4" fill="none" stroke="#ee1c25" stroke-width="2.0" stroke-linejoin="round"/>
<path d="M838.3,75.2 L844.4,70.4 L844.6,75.8" fill="none" stroke="#ee1c25" stroke-width="2.0" stroke-linejoin="round"/>
<path d="M791.25,151.1 L804,112 L815.6,128.8" fill="none" stroke="#ee1c25" stroke-width="2.0" stroke-linejoin="round"/>
<path d="M809.6,126.4 L815.6,128.8 L815.3,122" fill="none" stroke="#ee1c25" stroke-width="2.0" stroke-linejoin="round"/>
<path d="M833.75,186.3 L904.8,35.4" fill="none" stroke="#ffffff" stroke-width="1.8" stroke-linejoin="round"/>
<path d="M898.2,40.7 L904.8,35.4 L905.0,43.8" fill="none" stroke="#ffffff" stroke-width="1.8" stroke-linejoin="round"/>
<line x1="818.1" y1="160.5" x2="833.75" y2="186.3" stroke="#ffffff" stroke-width="1.3" stroke-linecap="round"/>
<path d="M809.6,211.2 L823.6,259.5" fill="none" stroke="#ffffff" stroke-width="1.4" stroke-linejoin="round"/>
<path d="M817.9,252.6 L823.6,259.5 L825,251.3" fill="none" stroke="#ffffff" stroke-width="1.4" stroke-linejoin="round"/>
<rect x="840.4" y="120.1" width="2.1" height="5.6" fill="#ffffff"/>
<circle cx="941.6" cy="51.2" r="1.1" fill="#000000"/>
<circle cx="875.3" cy="80.1" r="1.1" fill="#000000"/>
<circle cx="857.4" cy="123.7" r="1.1" fill="#000000"/>
<circle cx="870.8" cy="239.2" r="1.1" fill="#000000"/>
<circle cx="855.7" cy="251.5" r="1.1" fill="#000000"/>
<circle cx="969.7" cy="120.3" r="1.1" fill="#000000"/>
</svg>
</body></html>
